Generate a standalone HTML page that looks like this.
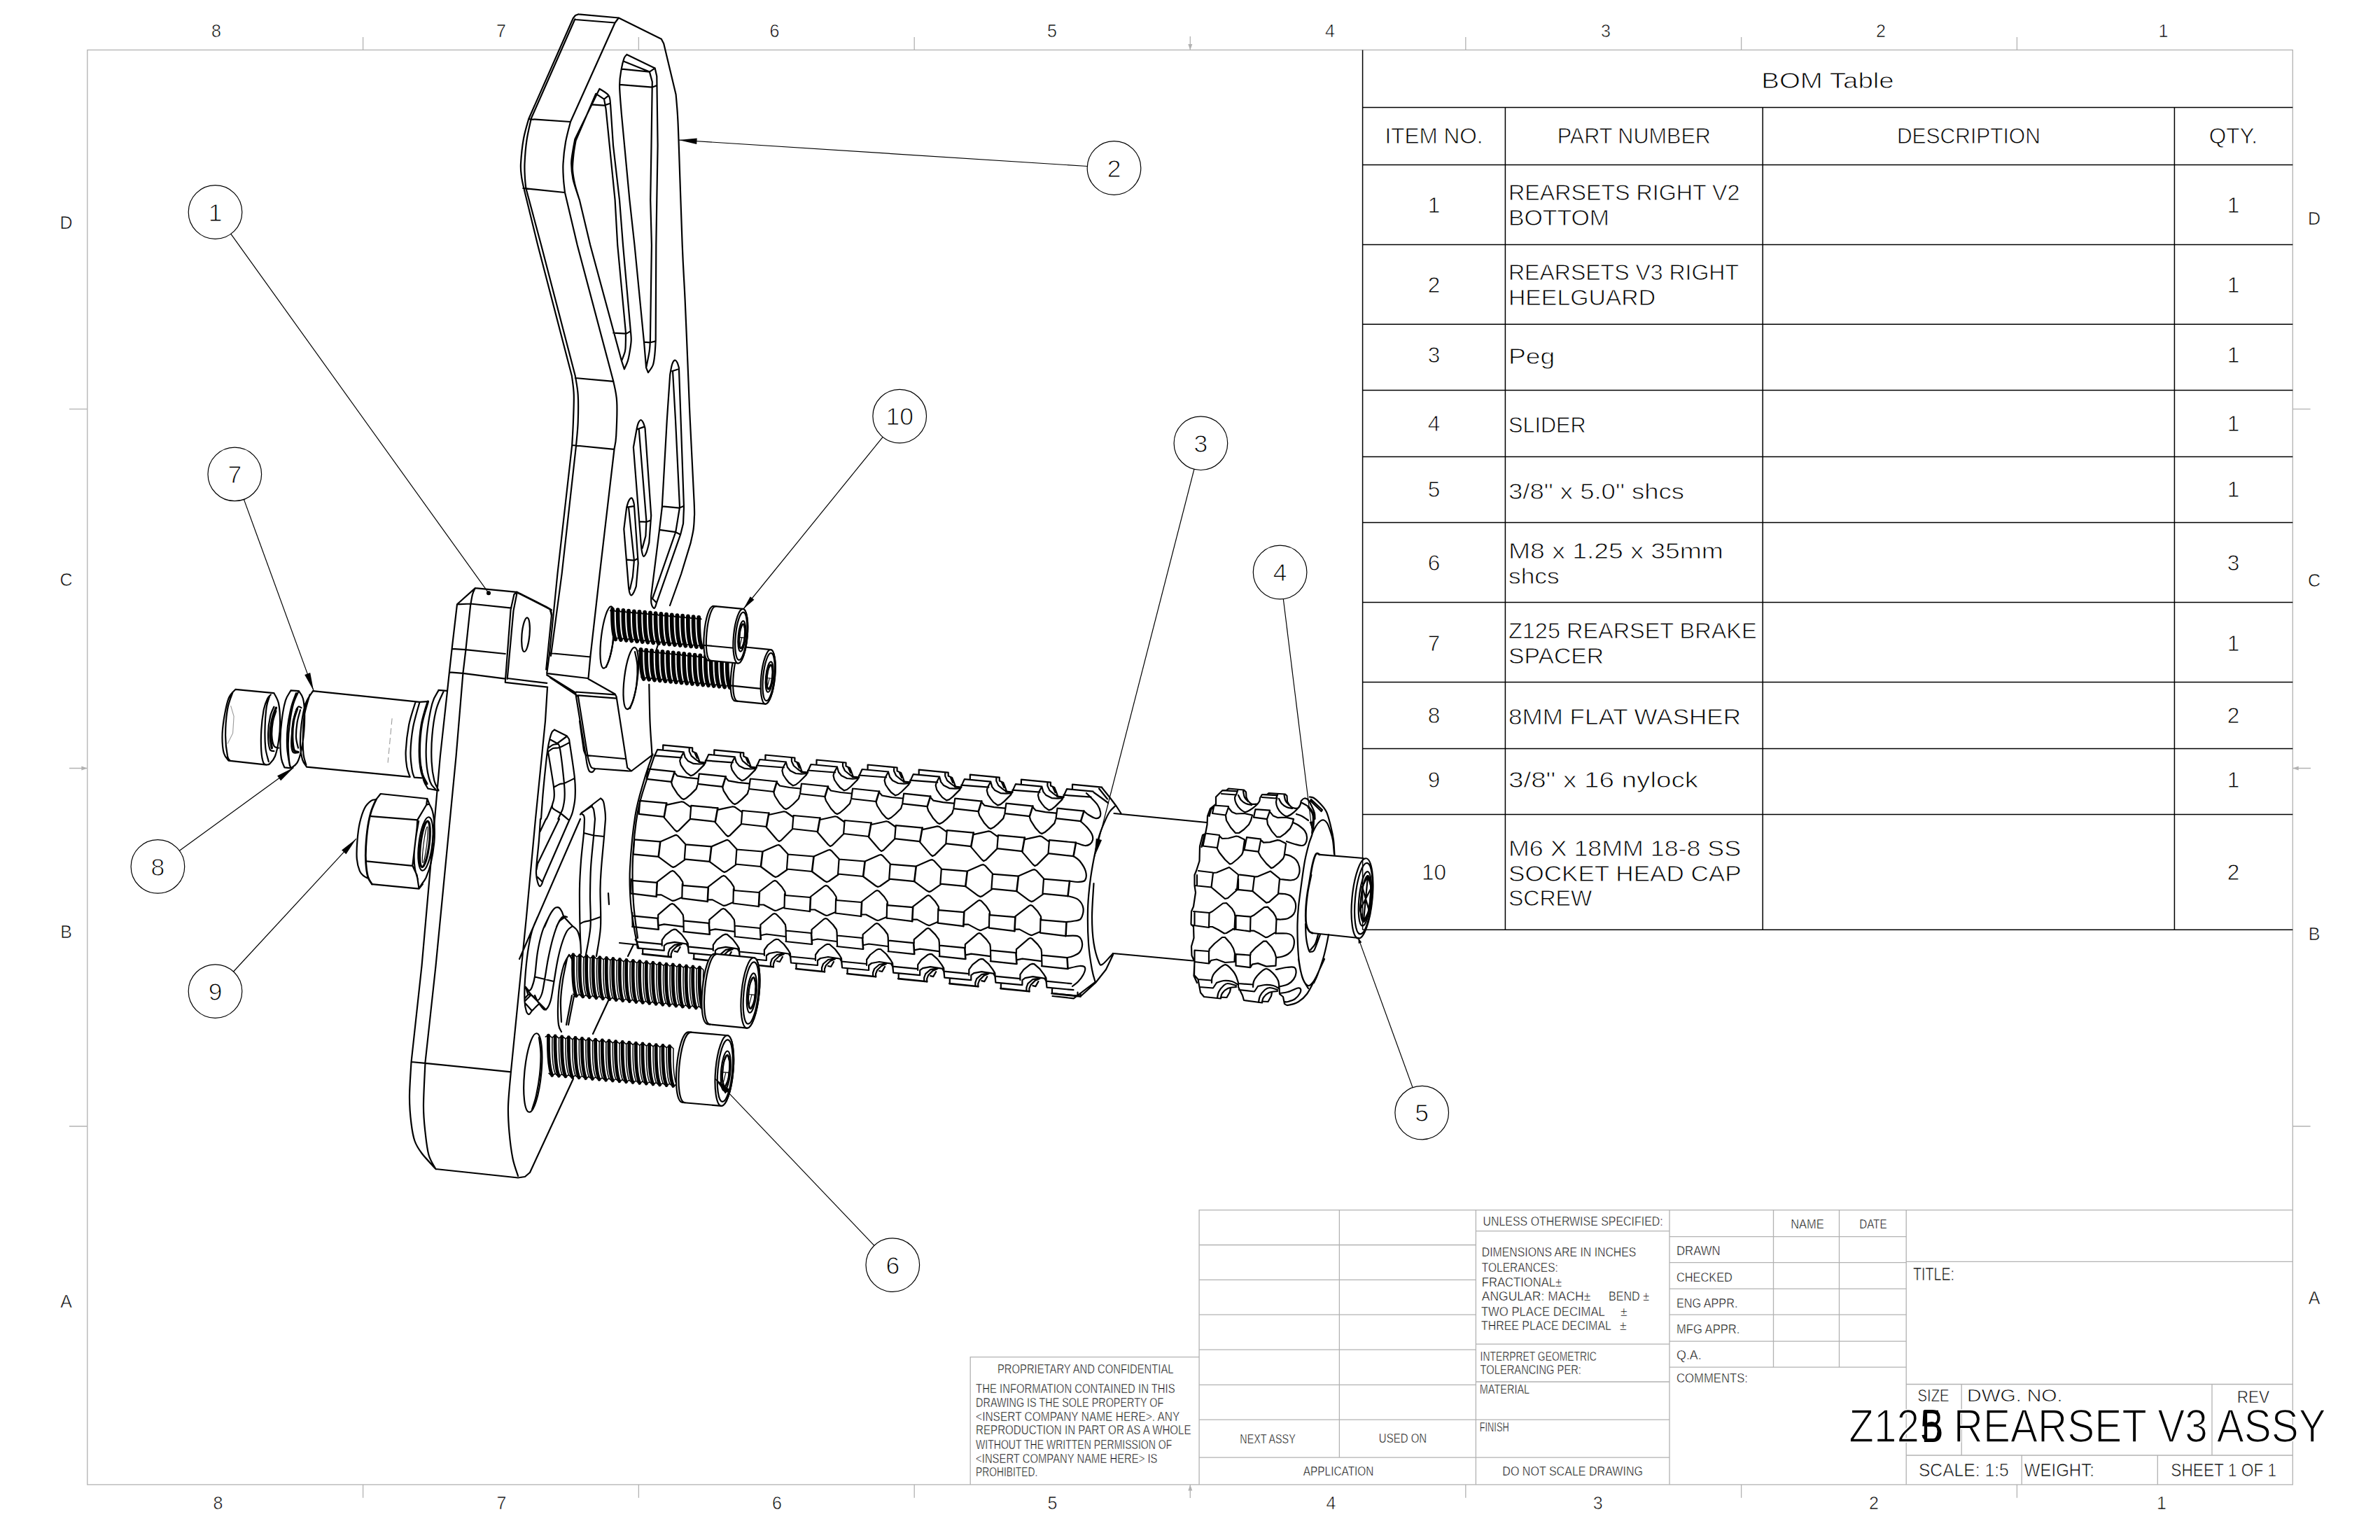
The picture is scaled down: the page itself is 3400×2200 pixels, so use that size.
<!DOCTYPE html>
<html><head><meta charset="utf-8"><title>Z125 REARSET V3 ASSY</title>
<style>
html,body{margin:0;padding:0;background:#fff;}
body{width:3400px;height:2200px;overflow:hidden;}
svg{display:block;font-family:"Liberation Sans",sans-serif;}
.k{stroke:#000;fill:none;stroke-width:2.2;stroke-linecap:round;stroke-linejoin:round;}
.w{stroke:#000;fill:#fff;stroke-width:2.2;stroke-linecap:round;stroke-linejoin:round;}
.t{stroke:#000;fill:none;stroke-width:1.1;stroke-linecap:round;stroke-linejoin:round;}
.g{stroke:#9a9a9a;fill:none;stroke-width:1.1;}
</style></head><body>
<svg width="3400" height="2200" viewBox="0 0 3400 2200">
<rect width="3400" height="2200" fill="#fff"/>
<g stroke="#b2b2b2" stroke-width="1.3" fill="none">
<rect x="124.8" y="71.4" width="3150.5" height="2049.5"/>
<path d="M518.6 53V71.4M518.6 2120.9V2139.8"/>
<path d="M912.4 53V71.4M912.4 2120.9V2139.8"/>
<path d="M1306.2 53V71.4M1306.2 2120.9V2139.8"/>
<path d="M2093.8 53V71.4M2093.8 2120.9V2139.8"/>
<path d="M2487.6 53V71.4M2487.6 2120.9V2139.8"/>
<path d="M2881.4 53V71.4M2881.4 2120.9V2139.8"/>
<path d="M99 584.3H124.8M3275.3 584.3H3300.6"/>
<path d="M99 1609H124.8M3275.3 1609H3300.6"/>
<path d="M1700.3 52V71.4M1700.3 2120.9V2140M99 1097.5H124.8M3275.3 1097.5H3301"/>
</g>
<g fill="#b2b2b2" stroke="none">
<path d="M1697.3 63h6l-3 8.4z"/>
<path d="M1697.3 2129.5h6l-3 -8.4z"/>
<path d="M116.4 1094.5v6l8.4 -3z"/>
<path d="M3283.7 1094.5v6l-8.4 -3z"/>
</g>
<g font-size="25" text-anchor="middle" fill="#000" stroke="#fff" stroke-width="0.6">
<text x="309" y="52.5">8</text>
<text x="716" y="52.5">7</text>
<text x="1106.5" y="52.5">6</text>
<text x="1503" y="52.5">5</text>
<text x="1900" y="52.5">4</text>
<text x="2294" y="52.5">3</text>
<text x="2687" y="52.5">2</text>
<text x="3090.5" y="52.5">1</text>
<text x="311.4" y="2156">8</text>
<text x="716.4" y="2156">7</text>
<text x="1110" y="2156">6</text>
<text x="1503.5" y="2156">5</text>
<text x="1901.5" y="2156">4</text>
<text x="2282.6" y="2156">3</text>
<text x="2677" y="2156">2</text>
<text x="3088" y="2156">1</text>
<text x="94.5" y="327">D</text>
<text x="94.5" y="837">C</text>
<text x="94.5" y="1340">B</text>
<text x="94.5" y="1868.4">A</text>
<text x="3306" y="320.7">D</text>
<text x="3306" y="838">C</text>
<text x="3306" y="1343">B</text>
<text x="3306" y="1863.4">A</text>
</g>
<g stroke="#b2b2b2" stroke-width="1.3" fill="none">
<path d="M1386.2 2120.9V1938.7H1713.1M1713.1 2120.9V1728.7H3275.3M1713.1 1778.5H2108.4M1713.1 1828.4H2108.4M1713.1 1878.2H2108.4M1713.1 1928.1H2108.4M1713.1 1978.4H2108.4M1713.1 2028.2H2108.4M1713.1 2082.1H2385M1913.4 1728.7V2082.1M2108.4 1728.7V2120.9M2108.4 1758.7H2385M2108.4 1920.1H2385M2108.4 1974H2385M2108.4 2028.2H2385M2385 1728.7V2120.9M2385 1766.6H2723.2M2385 1803.7H2723.2M2385 1841.2H2723.2M2385 1878.2H2723.2M2385 1916.2H2723.2M2385 1953.2H2723.2M2533.5 1728.7V1953.2M2627.5 1728.7V1953.2M2723.2 1728.7V2120.9M2723.2 1802.4H3275.3M2723.2 1977.5H3275.3M2723.2 2079H3275.3M2802.2 1977.5V2079M3160 1977.5V2079M2888.2 2079V2120.9M3082.3 2079V2120.9"/>
</g>
<g fill="#000">
<text x="2118.5" y="1750.7" font-size="18" text-anchor="start" textLength="257.2" lengthAdjust="spacingAndGlyphs" stroke="#fff" stroke-width="0.47">UNLESS OTHERWISE SPECIFIED:</text>
<text x="2116.8" y="1795.3" font-size="17.5" text-anchor="start" textLength="220.6" lengthAdjust="spacingAndGlyphs" stroke="#fff" stroke-width="0.45">DIMENSIONS ARE IN INCHES</text>
<text x="2116.8" y="1816.5" font-size="17.5" text-anchor="start" textLength="109.0" lengthAdjust="spacingAndGlyphs" stroke="#fff" stroke-width="0.45">TOLERANCES:</text>
<text x="2116.8" y="1837.6" font-size="17.5" text-anchor="start" textLength="114.3" lengthAdjust="spacingAndGlyphs" stroke="#fff" stroke-width="0.45">FRACTIONAL±</text>
<text x="2116.8" y="1858.4" font-size="17.5" text-anchor="start" textLength="155.5" lengthAdjust="spacingAndGlyphs" stroke="#fff" stroke-width="0.45">ANGULAR: MACH±</text>
<text x="2298.0" y="1858.4" font-size="17.5" text-anchor="start" textLength="58.0" lengthAdjust="spacingAndGlyphs" stroke="#fff" stroke-width="0.45">BEND ±</text>
<text x="2115.9" y="1879.6" font-size="17.5" text-anchor="start" textLength="177.0" lengthAdjust="spacingAndGlyphs" stroke="#fff" stroke-width="0.45">TWO PLACE DECIMAL</text>
<text x="2315.0" y="1879.6" font-size="17.5" text-anchor="start" stroke="#fff" stroke-width="0.45">±</text>
<text x="2115.9" y="1900.3" font-size="17.5" text-anchor="start" textLength="186.0" lengthAdjust="spacingAndGlyphs" stroke="#fff" stroke-width="0.45">THREE PLACE DECIMAL</text>
<text x="2314.0" y="1900.3" font-size="17.5" text-anchor="start" stroke="#fff" stroke-width="0.45">±</text>
<text x="2114.6" y="1944.0" font-size="17.5" text-anchor="start" textLength="166.3" lengthAdjust="spacingAndGlyphs" stroke="#fff" stroke-width="0.45">INTERPRET GEOMETRIC</text>
<text x="2114.6" y="1963.0" font-size="17.5" text-anchor="start" textLength="144.3" lengthAdjust="spacingAndGlyphs" stroke="#fff" stroke-width="0.45">TOLERANCING PER:</text>
<text x="2113.7" y="1991.2" font-size="17.5" text-anchor="start" textLength="71.5" lengthAdjust="spacingAndGlyphs" stroke="#fff" stroke-width="0.45">MATERIAL</text>
<text x="2113.7" y="2044.6" font-size="17.5" text-anchor="start" textLength="42.0" lengthAdjust="spacingAndGlyphs" stroke="#fff" stroke-width="0.45">FINISH</text>
<text x="2146.3" y="2108.1" font-size="17.5" text-anchor="start" textLength="200.7" lengthAdjust="spacingAndGlyphs" stroke="#fff" stroke-width="0.45">DO NOT SCALE DRAWING</text>
<text x="1771.3" y="2062.2" font-size="17.5" text-anchor="start" textLength="79.4" lengthAdjust="spacingAndGlyphs" stroke="#fff" stroke-width="0.45">NEXT ASSY</text>
<text x="1969.8" y="2061.3" font-size="17.5" text-anchor="start" textLength="68.4" lengthAdjust="spacingAndGlyphs" stroke="#fff" stroke-width="0.45">USED ON</text>
<text x="1861.8" y="2108.1" font-size="17.5" text-anchor="start" textLength="100.6" lengthAdjust="spacingAndGlyphs" stroke="#fff" stroke-width="0.45">APPLICATION</text>
<text x="1425.0" y="1961.6" font-size="17.5" text-anchor="start" textLength="251.5" lengthAdjust="spacingAndGlyphs" stroke="#fff" stroke-width="0.45">PROPRIETARY AND CONFIDENTIAL</text>
<text x="1394.1" y="1989.9" font-size="17.5" text-anchor="start" textLength="284.6" lengthAdjust="spacingAndGlyphs" stroke="#fff" stroke-width="0.45">THE INFORMATION CONTAINED IN THIS</text>
<text x="1394.1" y="2009.7" font-size="17.5" text-anchor="start" textLength="268.2" lengthAdjust="spacingAndGlyphs" stroke="#fff" stroke-width="0.45">DRAWING IS THE SOLE PROPERTY OF</text>
<text x="1394.1" y="2029.6" font-size="17.5" text-anchor="start" textLength="291.2" lengthAdjust="spacingAndGlyphs" stroke="#fff" stroke-width="0.45">&lt;INSERT COMPANY NAME HERE&gt;.  ANY</text>
<text x="1394.1" y="2049.4" font-size="17.5" text-anchor="start" textLength="307.5" lengthAdjust="spacingAndGlyphs" stroke="#fff" stroke-width="0.45">REPRODUCTION IN PART OR AS A WHOLE</text>
<text x="1394.1" y="2069.7" font-size="17.5" text-anchor="start" textLength="280.2" lengthAdjust="spacingAndGlyphs" stroke="#fff" stroke-width="0.45">WITHOUT THE WRITTEN PERMISSION OF</text>
<text x="1394.1" y="2089.6" font-size="17.5" text-anchor="start" textLength="259.4" lengthAdjust="spacingAndGlyphs" stroke="#fff" stroke-width="0.45">&lt;INSERT COMPANY NAME HERE&gt; IS</text>
<text x="1394.1" y="2108.5" font-size="17.5" text-anchor="start" textLength="88.2" lengthAdjust="spacingAndGlyphs" stroke="#fff" stroke-width="0.45">PROHIBITED.</text>
<text x="2558.2" y="1754.7" font-size="17.5" text-anchor="start" textLength="47.6" lengthAdjust="spacingAndGlyphs" stroke="#fff" stroke-width="0.45">NAME</text>
<text x="2656.2" y="1754.7" font-size="17.5" text-anchor="start" textLength="39.3" lengthAdjust="spacingAndGlyphs" stroke="#fff" stroke-width="0.45">DATE</text>
<text x="2395.0" y="1792.6" font-size="17.5" text-anchor="start" textLength="62.6" lengthAdjust="spacingAndGlyphs" stroke="#fff" stroke-width="0.45">DRAWN</text>
<text x="2395.0" y="1830.6" font-size="17.5" text-anchor="start" textLength="79.9" lengthAdjust="spacingAndGlyphs" stroke="#fff" stroke-width="0.45">CHECKED</text>
<text x="2395.0" y="1867.6" font-size="17.5" text-anchor="start" textLength="87.4" lengthAdjust="spacingAndGlyphs" stroke="#fff" stroke-width="0.45">ENG APPR.</text>
<text x="2395.0" y="1904.7" font-size="17.5" text-anchor="start" textLength="90.4" lengthAdjust="spacingAndGlyphs" stroke="#fff" stroke-width="0.45">MFG APPR.</text>
<text x="2395.0" y="1942.2" font-size="17.5" text-anchor="start" textLength="35.7" lengthAdjust="spacingAndGlyphs" stroke="#fff" stroke-width="0.45">Q.A.</text>
<text x="2395.0" y="1974.9" font-size="17.5" text-anchor="start" textLength="101.9" lengthAdjust="spacingAndGlyphs" stroke="#fff" stroke-width="0.45">COMMENTS:</text>
<text x="2732.9" y="1828.8" font-size="26.5" text-anchor="start" textLength="59.1" lengthAdjust="spacingAndGlyphs" stroke="#fff" stroke-width="0.69">TITLE:</text>
<text x="2739.6" y="2002.2" font-size="24" text-anchor="start" textLength="45.0" lengthAdjust="spacingAndGlyphs" stroke="#fff" stroke-width="0.62">SIZE</text>
<text x="2810.1" y="2002.2" font-size="24" text-anchor="start" textLength="136.3" lengthAdjust="spacingAndGlyphs" stroke="#fff" stroke-width="0.62">DWG.  NO.</text>
<text x="3195.7" y="2003.5" font-size="24" text-anchor="start" textLength="46.3" lengthAdjust="spacingAndGlyphs" stroke="#fff" stroke-width="0.62">REV</text>
<text x="2641.2" y="2059.6" font-size="66.5" text-anchor="start" textLength="681.6" lengthAdjust="spacingAndGlyphs" stroke="#fff" stroke-width="1.73">Z125 REARSET V3 ASSY</text>
<text x="2744.9" y="2059.6" font-size="66.5" text-anchor="start" textLength="31.0" lengthAdjust="spacingAndGlyphs" >B</text>
<text x="2740.9" y="2109.4" font-size="26" text-anchor="start" textLength="128.8" lengthAdjust="spacingAndGlyphs" stroke="#fff" stroke-width="0.68">SCALE: 1:5</text>
<text x="2891.8" y="2109.4" font-size="26" text-anchor="start" textLength="100.1" lengthAdjust="spacingAndGlyphs" stroke="#fff" stroke-width="0.68">WEIGHT:</text>
<text x="3101.3" y="2109.4" font-size="26" text-anchor="start" textLength="150.9" lengthAdjust="spacingAndGlyphs" stroke="#fff" stroke-width="0.68">SHEET 1 OF 1</text>
</g>
<g id="drawing">
<path class="k" d="M826.6 20.3L822.0 22.0L818.8 26.0L755.2 170.0M755.2 170.0C754.0 174.7 749.9 187.4 748.0 198.0C746.1 208.6 744.5 224.8 744.0 233.8C743.5 242.8 744.4 246.8 745.0 252.0C745.6 257.2 747.0 262.8 747.4 265.0M747.4 265.0L768.2 350.0L816.9 537.0M816.9 537.0C817.4 541.5 819.5 553.2 819.8 564.3C820.1 575.3 819.3 591.3 818.9 603.3C818.5 615.2 817.5 630.5 817.2 636.0M817.2 636.0L796.4 820.0L785.1 933.0L781.2 962.0M821.4 27.3L759.0 168.8M759.0 168.8C757.9 174.0 754.1 189.2 752.5 200.0C750.9 210.8 749.9 224.6 749.5 233.8C749.1 243.0 749.7 249.2 750.0 255.0C750.3 260.8 751.1 266.5 751.3 268.8M751.3 268.8L773.1 350.0L821.8 537.0M821.8 537.0C822.4 541.5 825.1 553.2 825.7 564.3C826.4 575.3 826.1 591.3 825.7 603.3C825.3 615.2 823.5 630.5 823.1 636.0M823.1 636.0L802.6 820.0L787.0 936.9M878.6 32.5L815.0 174.0M815.0 174.0C813.8 178.8 809.8 193.0 808.0 203.0C806.2 213.0 805.0 225.0 804.5 233.8C804.0 242.6 804.6 249.1 805.0 256.0C805.4 262.9 806.7 271.8 807.0 275.0M807.0 275.0L824.7 350.0L876.3 544.8M876.3 544.8C877.1 549.7 880.6 561.0 881.2 574.0C881.9 587.0 880.8 611.6 880.2 622.8C879.6 634.0 878.0 638.0 877.6 641.0M877.6 641.0L856.7 820.0L843.5 936.9L840.6 968.1M822.0 28.0L878.6 32.5M755.2 170.0L815.0 174.0M747.4 268.8L806.5 275.0M821.8 540.0L876.3 544.8M817.9 636.0L877.3 641.9M785.1 933.0L843.5 938.5M782.2 962.2L839.7 969.0M826.6 20.3L883.8 25.5L944.8 55.8L948.2 62.3L965.6 135.0M965.6 135.0C966.0 140.0 967.4 154.2 968.0 165.0C968.6 175.8 968.4 169.2 969.5 200.0C970.6 230.8 973.2 312.0 974.7 350.0C976.2 388.0 977.1 395.4 978.6 427.9C980.1 460.4 982.3 516.1 983.5 544.8C984.7 573.5 984.4 571.3 985.8 600.0C987.1 628.7 990.6 693.6 991.6 716.9C992.6 740.2 992.0 733.3 991.8 740.0C991.6 746.7 991.4 751.1 990.5 757.0C989.6 762.9 987.3 772.3 986.7 775.4M986.7 775.4L973.1 820.0L957.0 865.0M941.0 918.0L938.0 927.0M927.3 977.8C927.5 986.5 927.9 1014.1 928.5 1030.0C929.1 1045.9 930.8 1065.1 931.2 1073.3C931.7 1081.5 931.2 1078.2 931.2 1079.2M878.6 32.5L883.8 25.5M781.2 964.2L822.1 989.5L836.7 1079.0M786.1 968.1L824.1 993.4L826.0 995.3L839.7 1081.1M840.6 970.0L878.6 991.5L880.6 995.3L896.2 1096.7L902.0 1101.5L931.2 1079.2M823.1 988.5L878.6 992.4M826.0 993.4L880.6 997.7M836.7 1079.0C837.0 1081.0 837.8 1087.5 838.5 1091.0C839.2 1094.5 840.2 1098.0 841.0 1100.0C841.8 1102.0 842.5 1102.4 843.5 1102.8C844.5 1103.2 845.9 1103.2 847.0 1102.5C848.1 1101.8 849.5 1099.2 850.0 1098.5M839.7 1081.0C840.1 1082.5 841.1 1087.4 842.0 1090.0C842.9 1092.6 843.7 1095.2 845.0 1096.5C846.3 1097.8 849.2 1097.8 850.0 1098.0M837.7 1079.0L892.3 1084.0M850.0 1098.0L897.0 1101.3L902.0 1101.5M828.0 1030.0L834.0 1072.0L836.7 1079.0M856.5 126.8L821.4 198.7M821.4 198.7C820.9 201.5 819.2 209.8 818.3 215.6C817.4 221.4 816.1 226.9 816.2 233.8C816.3 240.7 816.8 248.5 818.8 257.1C820.8 265.8 826.4 280.9 827.9 285.7M827.9 285.7L843.2 350.0L888.0 515.6L891.9 527.3M851.3 133.8L822.5 201.0M822.5 201.0C822.0 204.2 820.2 213.2 819.5 220.0C818.8 226.8 817.8 234.6 818.0 241.6C818.2 248.6 819.6 255.3 821.0 262.0C822.4 268.7 825.7 278.5 826.6 281.8M856.5 126.8C858.7 128.4 866.9 132.6 869.5 136.4C872.1 140.2 871.7 147.2 872.1 149.4M872.1 149.4L876.0 207.8L885.0 285.7L890.0 350.0L900.7 470.8M900.7 470.8C900.9 473.4 901.9 481.0 901.7 486.4C901.5 491.8 900.3 498.1 899.5 503.0C898.7 507.9 898.1 511.6 896.8 515.6C895.5 519.6 892.7 525.3 891.9 527.3M863.0 141.6L865.6 155.8L870.8 207.8L878.6 285.7L882.2 350.0L893.9 474.7M893.9 474.7C893.9 477.2 894.0 485.4 893.8 490.0C893.6 494.6 893.9 497.7 892.9 502.0C891.9 506.3 888.8 513.3 888.0 515.6M851.3 133.8L863.0 141.6L869.5 136.4M844.8 149.4L863.0 150.6L870.8 148.0M876.3 475.7L894.8 476.6L900.7 473.1M895.5 77.9C894.9 78.8 892.9 79.6 891.6 83.1C890.3 86.6 888.8 92.2 887.7 98.7C886.6 105.2 885.1 111.6 885.1 122.0C885.1 132.4 887.3 154.5 887.7 161.0M887.7 161.0L899.4 285.7L906.5 350.0L920.2 490.3L923.1 525.4L926.0 532.2M895.5 77.9L935.7 97.4L938.3 109.0L939.6 207.8L938.3 285.7L937.3 350.0L936.7 486.4M936.7 486.4C936.5 489.5 936.1 499.1 935.5 505.0C934.9 510.9 934.4 517.0 932.8 521.5C931.2 526.0 927.1 530.4 926.0 532.2M892.0 88.0L927.9 102.6L931.8 116.9L930.5 207.8L929.2 285.7L930.9 350.0L928.9 486.4M928.9 486.4C928.8 488.2 928.5 493.8 928.2 497.0C927.9 500.2 927.9 501.2 927.0 505.9C926.1 510.6 923.8 522.1 923.1 525.4M888.5 98.7L927.9 102.6L935.7 97.4M885.1 120.8L931.8 124.7L938.3 122.0M920.2 488.7L928.9 489.3L936.7 487.4M957.2 535.1C957.7 532.8 958.9 524.4 960.0 521.0C961.1 517.6 962.8 515.1 964.0 514.6C965.2 514.1 966.5 516.2 967.5 518.0C968.5 519.8 969.5 524.2 969.9 525.4M957.2 535.1L952.8 600.0L945.8 724.7L941.9 757.8L930.2 851.3M930.2 851.3C930.2 853.1 929.9 859.1 930.5 862.0C931.1 864.9 933.1 868.2 934.1 868.9C935.1 869.6 935.9 867.3 936.5 866.0C937.1 864.7 937.8 861.9 938.0 861.1M969.9 525.4L972.6 600.0L977.0 724.7L976.0 748.1L972.1 763.7L938.0 861.1M961.1 531.2L965.0 600.0L971.0 724.7L965.3 759.8L932.1 855.2L938.0 861.1M960.1 530.2L967.9 527.7M946.4 723.3L970.2 725.7L976.6 723.1M941.9 756.8L965.3 760.2L972.1 763.7M909.8 611.7C910.2 610.4 911.0 606.0 912.0 604.0C913.0 602.0 914.3 600.0 915.5 600.0C916.7 600.0 918.0 602.0 919.0 604.0C920.0 606.0 921.1 610.4 921.5 611.7M909.8 611.7L904.9 639.0L915.6 775.4M915.6 775.4C915.8 777.5 916.4 784.8 917.0 788.0C917.6 791.2 918.4 794.6 919.5 794.8C920.6 795.0 922.2 792.2 923.5 789.0C924.8 785.8 926.7 777.7 927.3 775.4M921.5 611.7L930.2 736.4L927.3 775.4M912.7 612.7L923.4 744.2L922.4 765.6L917.6 783.1M913.3 745.2L923.4 745.7L929.6 743.2M910.2 613.2L919.1 610.1M895.2 724.7C895.7 723.2 896.9 718.2 898.0 716.0C899.1 713.8 900.9 711.6 902.0 711.4C903.1 711.2 903.9 713.4 904.5 715.0C905.1 716.6 905.7 719.8 905.9 720.8M895.2 724.7L891.3 755.9L898.1 839.6M898.1 839.6C898.3 840.8 898.9 845.2 899.5 847.0C900.1 848.8 901.0 850.6 902.0 850.4C903.0 850.2 904.4 848.1 905.5 846.0C906.6 843.9 908.2 839.1 908.8 837.7M905.9 720.8L911.7 804.6L908.8 837.7M898.1 725.7L905.9 800.7L903.9 824.0L900.0 841.6M896.1 799.7L905.9 800.7L911.3 797.8M895.7 724.7L905.5 723.1"/>
<ellipse class="k" cx="867.7" cy="910.5" rx="8.8" ry="44.5" transform="rotate(7 867.7 910.5)"/>
<path class="k" d="M873.0 872.0C873.6 875.3 876.1 884.3 876.5 892.0C876.9 899.7 876.4 910.0 875.5 918.0C874.6 926.0 872.6 934.2 871.0 940.0C869.4 945.8 866.8 950.8 866.0 953.0"/>
<ellipse class="k" cx="901.3" cy="969" rx="9.4" ry="44.5" transform="rotate(7 901.3 969)"/>
<path class="k" d="M907.0 931.0C907.6 934.3 910.1 943.3 910.5 951.0C910.9 958.7 910.4 969.0 909.5 977.0C908.6 985.0 906.6 993.2 905.0 999.0C903.4 1004.8 900.8 1009.8 900.0 1012.0"/>
<path class="k" d="M653.0 863.3L678.9 840.1L738.3 845.9M788.0 878.5L780.2 956.4M653.0 863.3L645.8 925.2L641.9 960.3L639.0 987.6L628.9 1080.0L602.5 1380.0L587.5 1517.5M587.5 1517.5C587.1 1525.8 585.0 1552.9 585.0 1567.5C585.0 1582.1 586.2 1594.6 587.5 1605.0C588.8 1615.4 590.0 1622.9 592.5 1630.0C595.0 1637.1 597.5 1640.8 602.5 1647.5C607.5 1654.2 619.2 1666.2 622.5 1670.0M678.9 840.1C678.2 841.6 676.1 845.1 675.0 849.2C673.9 853.3 672.6 862.2 672.1 864.8M672.1 864.8L665.3 929.1L661.4 962.2L651.6 1080.0L622.5 1380.0L607.5 1517.5M607.5 1517.5C607.1 1527.9 605.0 1563.3 605.0 1580.0C605.0 1596.7 606.2 1605.8 607.5 1617.5C608.8 1629.2 610.0 1641.2 612.5 1650.0C615.0 1658.8 620.8 1666.7 622.5 1670.0M653.0 863.3L672.1 862.5L730.5 868.7M646.4 926.8L665.3 928.1L721.8 934.0M642.5 960.3L661.4 961.8L721.8 969.6M587.5 1517.0L607.5 1518.8L730.0 1531.3M738.3 845.9L734.4 849.2L729.6 870.7L721.8 973.9M738.3 848.3L733.5 872.6L724.7 970.0M721.8 974.9L782.2 981.7M724.7 969.0L781.2 975.9M782.0 982.0L779.0 1030.0L765.0 1170.0L752.0 1310.0L745.0 1380.0L735.0 1480.0L730.0 1530.0M730.0 1530.0C729.3 1538.3 726.4 1565.4 726.0 1580.0C725.6 1594.6 726.4 1605.0 727.5 1617.5C728.6 1630.0 730.4 1644.6 732.5 1655.0C734.6 1665.4 738.8 1675.8 740.0 1680.0M622.5 1670.0L740.0 1682.5L750.0 1681.0L757.0 1675.0M885.0 1347.0L909.0 1349.5M905.0 1349.5L897.0 1366.0M870.0 1427.5L847.0 1477.0M819.0 1541.0L757.0 1675.0M792.0 1042.5C791.4 1043.1 789.6 1043.9 788.5 1046.0C787.4 1048.1 786.5 1051.0 785.5 1055.0C784.5 1059.0 783.4 1064.2 782.5 1070.0C781.6 1075.8 781.1 1080.0 780.0 1090.0C778.9 1100.0 777.2 1116.7 776.0 1130.0C774.8 1143.3 773.5 1163.3 773.0 1170.0M792.0 1042.5L810.0 1051.5L813.0 1056.0M813.0 1056.0C814.3 1065.3 819.6 1098.0 821.0 1112.0C822.4 1126.0 822.0 1132.0 821.5 1140.0C821.0 1148.0 819.2 1155.0 818.0 1160.0C816.8 1165.0 814.8 1168.3 814.2 1170.0M787.0 1057.0L796.0 1062.0L809.0 1052.5M796.0 1062.0C796.7 1063.3 798.3 1060.3 800.0 1070.0C801.7 1079.7 804.9 1108.3 806.0 1120.0C807.1 1131.7 806.8 1134.2 806.5 1140.0C806.2 1145.8 804.9 1151.3 804.0 1155.0C803.1 1158.7 801.5 1160.8 801.0 1162.0M784.0 1068.0C785.0 1067.3 788.0 1064.8 790.0 1064.0C792.0 1063.2 795.0 1063.2 796.0 1063.0M783.0 1074.0C784.2 1073.2 787.3 1070.0 790.0 1069.0C792.7 1068.0 795.2 1069.3 799.0 1068.0C802.8 1066.7 810.7 1062.2 813.0 1061.0M783.0 1074.0C784.3 1082.3 789.6 1113.0 791.0 1124.0C792.4 1135.0 791.8 1135.7 791.5 1140.0C791.2 1144.3 789.2 1147.5 789.0 1150.0C788.8 1152.5 788.0 1153.0 790.0 1155.0C792.0 1157.0 797.2 1159.2 801.0 1162.0C804.8 1164.8 811.0 1170.3 813.0 1172.0M791.5 1124.5C792.9 1123.8 797.6 1120.9 800.0 1120.0C802.4 1119.1 802.6 1120.3 806.0 1119.0C809.4 1117.7 818.1 1113.2 820.5 1112.0M789.0 1150.0L783.0 1165.0L780.6 1170.0M801.0 1162.0L797.4 1170.0M772.0 1170.0C771.7 1175.0 770.8 1190.0 770.0 1200.0C769.2 1210.0 767.7 1222.0 767.0 1230.0C766.3 1238.0 765.8 1243.0 766.0 1248.0C766.2 1253.0 767.2 1257.0 768.0 1260.0C768.8 1263.0 770.0 1265.5 771.0 1266.0C772.0 1266.5 773.2 1264.5 774.0 1263.0C774.8 1261.5 775.7 1258.0 776.0 1257.0M780.0 1170.0L771.5 1188.0M799.0 1170.0L768.0 1234.0L766.5 1242.0M814.0 1170.0L776.0 1257.0M768.0 1253.0L775.0 1260.0M829.0 1170.0L762.0 1324.0L742.0 1370.0M858.0 1140.5L830.0 1162.0L829.0 1163.5M858.0 1140.5C858.7 1141.2 860.9 1141.8 862.0 1145.0C863.1 1148.2 864.0 1155.8 864.5 1160.0C865.0 1164.2 864.9 1168.3 865.0 1170.0M845.0 1152.0C845.5 1152.7 847.2 1153.0 848.0 1156.0C848.8 1159.0 849.7 1167.7 850.0 1170.0M830.0 1162.0C830.7 1162.5 833.2 1163.7 834.0 1165.0C834.8 1166.3 834.8 1169.2 835.0 1170.0M831.0 1161.0L846.0 1151.0M835.0 1170.0C834.8 1173.3 834.8 1180.0 834.0 1190.0C833.2 1200.0 831.0 1216.7 830.0 1230.0C829.0 1243.3 828.2 1254.3 828.0 1270.0C827.8 1285.7 828.2 1308.7 828.5 1324.0C828.8 1339.3 829.8 1355.7 830.0 1362.0M850.0 1170.0C849.7 1174.2 849.0 1183.3 848.0 1195.0C847.0 1206.7 844.8 1225.8 844.0 1240.0C843.2 1254.2 843.1 1266.0 843.0 1280.0C842.9 1294.0 844.5 1310.0 843.5 1324.0C842.5 1338.0 838.1 1357.3 837.0 1364.0M865.0 1170.0C864.7 1174.2 864.0 1183.3 863.0 1195.0C862.0 1206.7 859.9 1227.5 859.0 1240.0C858.1 1252.5 857.7 1256.0 857.5 1270.0C857.3 1284.0 858.9 1308.0 858.0 1324.0C857.1 1340.0 853.0 1359.0 852.0 1366.0M834.0 1190.0L848.0 1193.5L863.0 1195.0M828.5 1320.0C829.4 1319.5 831.6 1317.8 834.0 1317.0C836.4 1316.2 839.1 1316.2 843.0 1315.0C846.9 1313.8 855.1 1310.8 857.5 1310.0M869.0 1276.0L870.0 1292.0M778.0 1324.0C779.2 1321.3 783.0 1312.0 785.0 1308.0C787.0 1304.0 788.5 1301.9 790.0 1300.0C791.5 1298.1 792.5 1297.0 794.0 1296.5C795.5 1296.0 797.5 1295.9 799.0 1297.0C800.5 1298.1 801.8 1300.8 803.0 1303.0C804.2 1305.2 803.5 1306.7 806.0 1310.0C808.5 1313.3 816.0 1320.8 818.0 1323.0M795.0 1324.0C795.8 1322.3 798.3 1316.5 800.0 1314.0C801.7 1311.5 803.3 1309.7 805.0 1309.0C806.7 1308.3 809.2 1309.8 810.0 1310.0M768.0 1310.0C766.7 1313.3 762.3 1321.7 760.0 1330.0C757.7 1338.3 755.7 1348.3 754.0 1360.0C752.3 1371.7 750.8 1388.3 750.0 1400.0C749.2 1411.7 749.2 1422.5 749.5 1430.0C749.8 1437.5 750.9 1441.8 752.0 1445.0C753.1 1448.2 754.7 1449.2 756.0 1449.0C757.3 1448.8 757.8 1446.3 760.0 1444.0C762.2 1441.7 767.5 1436.5 769.0 1435.0M784.0 1310.0C782.5 1313.3 777.7 1321.7 775.0 1330.0C772.3 1338.3 769.8 1349.2 768.0 1360.0C766.2 1370.8 765.3 1386.7 764.0 1395.0C762.7 1403.3 761.3 1406.7 760.0 1410.0C758.7 1413.3 757.5 1415.0 756.0 1415.0C754.5 1415.0 751.8 1410.8 751.0 1410.0M806.0 1311.0C804.7 1312.2 800.7 1313.2 798.0 1318.0C795.3 1322.8 792.5 1331.3 790.0 1340.0C787.5 1348.7 785.0 1360.0 783.0 1370.0C781.0 1380.0 779.5 1391.7 778.0 1400.0C776.5 1408.3 775.7 1415.2 774.0 1420.0C772.3 1424.8 770.3 1428.7 768.0 1429.0C765.7 1429.3 762.2 1423.3 760.0 1422.0C757.8 1420.7 756.7 1420.3 755.0 1421.0C753.3 1421.7 750.8 1425.2 750.0 1426.0M818.0 1323.0C816.7 1324.2 812.7 1325.5 810.0 1330.0C807.3 1334.5 804.3 1342.5 802.0 1350.0C799.7 1357.5 797.8 1365.8 796.0 1375.0C794.2 1384.2 792.5 1396.2 791.0 1405.0C789.5 1413.8 788.5 1422.2 787.0 1428.0C785.5 1433.8 783.7 1437.7 782.0 1440.0C780.3 1442.3 779.2 1443.3 777.0 1442.0C774.8 1440.7 771.2 1435.3 769.0 1432.0C766.8 1428.7 764.8 1423.7 764.0 1422.0M764.0 1395.5L791.0 1402.0M818.0 1323.0C819.2 1324.2 823.2 1326.3 825.0 1330.0C826.8 1333.7 828.2 1339.7 829.0 1345.0C829.8 1350.3 829.8 1359.2 830.0 1362.0M751.0 1410.0L754.0 1420.0L756.0 1421.0M750.0 1430.0L759.0 1421.0M751.0 1434.0L760.0 1444.0M813.0 1364.0C811.7 1366.7 807.3 1372.3 805.0 1380.0C802.7 1387.7 800.3 1400.0 799.0 1410.0C797.7 1420.0 797.2 1431.0 797.0 1440.0C796.8 1449.0 797.2 1458.3 798.0 1464.0C798.8 1469.7 801.3 1472.3 802.0 1474.0M810.0 1370.0C809.0 1375.0 805.5 1390.0 804.0 1400.0C802.5 1410.0 801.3 1420.0 801.0 1430.0C800.7 1440.0 801.8 1455.0 802.0 1460.0M813.0 1364.0C813.7 1365.0 816.0 1367.3 817.0 1370.0C818.0 1372.7 818.7 1378.3 819.0 1380.0M817.0 1422.0L809.0 1464.0M820.0 1423.0L812.0 1464.0M750.0 1410.0L760.0 1422.5L780.0 1442.5"/>
<path class="k" style="stroke-width:2.8" d="M738.3 845.9C745.8 849.7 775.1 864.3 783.1 868.7C791.1 873.1 785.7 870.9 786.5 872.5C787.3 874.1 787.8 877.5 788.0 878.5"/>
<ellipse class="k" cx="751" cy="906.7" rx="5.5" ry="24.4" transform="rotate(5 751 906.7)"/>
<ellipse class="k" cx="761.3" cy="1532.5" rx="12" ry="56.5" transform="rotate(5.5 761.3 1532.5)"/>
<path class="k" d="M770.0 1482.0C770.4 1485.8 772.3 1496.2 772.5 1505.0C772.7 1513.8 772.1 1525.0 771.0 1535.0C769.9 1545.0 767.8 1556.7 766.0 1565.0C764.2 1573.3 761.0 1581.7 760.0 1585.0"/>
<circle cx="698" cy="847.2" r="2.6" fill="#000"/>
<path class="k" d="M925.7 1098.4L963.7 1102.4M923.7 1112.9L959.2 1116.9M925.7 1098.4L923.7 1112.9M998.8 1105.4L1036.8 1109.4M996.8 1119.9L1032.3 1123.9M998.8 1105.4L996.8 1119.9M1071.9 1112.5L1109.9 1116.5M1069.9 1127.0L1105.4 1131.0M1071.9 1112.5L1069.9 1127.0M1145.0 1119.5L1183.0 1123.5M1143.0 1134.0L1178.5 1138.0M1145.0 1119.5L1143.0 1134.0M1218.1 1126.5L1256.1 1130.5M1216.1 1141.0L1251.6 1145.0M1218.1 1126.5L1216.1 1141.0M1291.2 1133.6L1329.2 1137.6M1289.2 1148.1L1324.7 1152.1M1291.2 1133.6L1289.2 1148.1M1364.3 1140.6L1402.3 1144.6M1362.3 1155.1L1397.8 1159.1M1364.3 1140.6L1362.3 1155.1M1437.4 1147.6L1475.4 1151.6M1435.4 1162.1L1470.9 1166.1M1437.4 1147.6L1435.4 1162.1M1510.5 1154.7L1548.5 1158.7M1508.5 1169.2L1544.0 1173.2M1510.5 1154.7L1508.5 1169.2M963.7 1103.9L967.7 1108.4L981.7 1110.9L996.7 1112.4M959.2 1117.9L960.7 1122.9L967.7 1133.9L973.7 1140.4L976.7 1141.9L980.7 1139.9L986.7 1134.9L994.7 1126.9L996.2 1121.9M1036.8 1110.9L1040.8 1115.4L1054.8 1117.9L1069.8 1119.4M1032.3 1124.9L1033.8 1129.9L1040.8 1140.9L1046.8 1147.4L1049.8 1148.9L1053.8 1146.9L1059.8 1141.9L1067.8 1133.9L1069.3 1128.9M1109.9 1118.0L1113.9 1122.5L1127.9 1125.0L1142.9 1126.5M1105.4 1132.0L1106.9 1137.0L1113.9 1148.0L1119.9 1154.5L1122.9 1156.0L1126.9 1154.0L1132.9 1149.0L1140.9 1141.0L1142.4 1136.0M1183.0 1125.0L1187.0 1129.5L1201.0 1132.0L1216.0 1133.5M1178.5 1139.0L1180.0 1144.0L1187.0 1155.0L1193.0 1161.5L1196.0 1163.0L1200.0 1161.0L1206.0 1156.0L1214.0 1148.0L1215.5 1143.0M1256.1 1132.0L1260.1 1136.5L1274.1 1139.0L1289.1 1140.5M1251.6 1146.0L1253.1 1151.0L1260.1 1162.0L1266.1 1168.5L1269.1 1170.0L1273.1 1168.0L1279.1 1163.0L1287.1 1155.0L1288.6 1150.0M1329.2 1139.1L1333.2 1143.6L1347.2 1146.1L1362.2 1147.6M1324.7 1153.1L1326.2 1158.1L1333.2 1169.1L1339.2 1175.6L1342.2 1177.1L1346.2 1175.1L1352.2 1170.1L1360.2 1162.1L1361.7 1157.1M1402.3 1146.1L1406.3 1150.6L1420.3 1153.1L1435.3 1154.6M1397.8 1160.1L1399.3 1165.1L1406.3 1176.1L1412.3 1182.6L1415.3 1184.1L1419.3 1182.1L1425.3 1177.1L1433.3 1169.1L1434.8 1164.1M1475.4 1153.1L1479.4 1157.6L1493.4 1160.1L1508.4 1161.6M1470.9 1167.1L1472.4 1172.1L1479.4 1183.1L1485.4 1189.6L1488.4 1191.1L1492.4 1189.1L1498.4 1184.1L1506.4 1176.1L1507.9 1171.1M914.2 1143.9L952.2 1147.4M912.7 1162.9L948.7 1166.9M914.2 1143.9L912.7 1162.9M987.3 1150.9L1025.3 1154.4M985.8 1169.9L1021.8 1173.9M987.3 1150.9L985.8 1169.9M1060.4 1158.0L1098.4 1161.5M1058.9 1177.0L1094.9 1181.0M1060.4 1158.0L1058.9 1177.0M1133.5 1165.0L1171.5 1168.5M1132.0 1184.0L1168.0 1188.0M1133.5 1165.0L1132.0 1184.0M1206.6 1172.0L1244.6 1175.5M1205.1 1191.0L1241.1 1195.0M1206.6 1172.0L1205.1 1191.0M1279.7 1179.1L1317.7 1182.6M1278.2 1198.1L1314.2 1202.1M1279.7 1179.1L1278.2 1198.1M1352.8 1186.1L1390.8 1189.6M1351.3 1205.1L1387.3 1209.1M1352.8 1186.1L1351.3 1205.1M1425.9 1193.1L1463.9 1196.6M1424.4 1212.1L1460.4 1216.1M1425.9 1193.1L1424.4 1212.1M1499.0 1200.2L1537.0 1203.7M1497.5 1219.2L1533.5 1223.2M1499.0 1200.2L1497.5 1219.2M952.2 1149.9L963.7 1147.4L973.7 1145.2L976.7 1145.9L987.2 1153.4M948.7 1167.9L963.7 1185.4L966.7 1187.9L969.7 1186.4L985.2 1170.9M1025.3 1156.9L1036.8 1154.4L1046.8 1152.2L1049.8 1152.9L1060.3 1160.4M1021.8 1174.9L1036.8 1192.4L1039.8 1194.9L1042.8 1193.4L1058.3 1177.9M1098.4 1164.0L1109.9 1161.5L1119.9 1159.3L1122.9 1160.0L1133.4 1167.5M1094.9 1182.0L1109.9 1199.5L1112.9 1202.0L1115.9 1200.5L1131.4 1185.0M1171.5 1171.0L1183.0 1168.5L1193.0 1166.3L1196.0 1167.0L1206.5 1174.5M1168.0 1189.0L1183.0 1206.5L1186.0 1209.0L1189.0 1207.5L1204.5 1192.0M1244.6 1178.0L1256.1 1175.5L1266.1 1173.3L1269.1 1174.0L1279.6 1181.5M1241.1 1196.0L1256.1 1213.5L1259.1 1216.0L1262.1 1214.5L1277.6 1199.0M1317.7 1185.1L1329.2 1182.6L1339.2 1180.4L1342.2 1181.1L1352.7 1188.6M1314.2 1203.1L1329.2 1220.6L1332.2 1223.1L1335.2 1221.6L1350.7 1206.1M1390.8 1192.1L1402.3 1189.6L1412.3 1187.4L1415.3 1188.1L1425.8 1195.6M1387.3 1210.1L1402.3 1227.6L1405.3 1230.1L1408.3 1228.6L1423.8 1213.1M1463.9 1199.1L1475.4 1196.6L1485.4 1194.4L1488.4 1195.1L1498.9 1202.6M1460.4 1217.1L1475.4 1234.6L1478.4 1237.1L1481.4 1235.6L1496.9 1220.1M906.2 1199.4L943.2 1202.4M904.7 1220.4L940.7 1223.9M906.2 1199.4L904.7 1220.4M979.3 1206.4L1016.3 1209.4M977.8 1227.4L1013.8 1230.9M979.3 1206.4L977.8 1227.4M1052.4 1213.5L1089.4 1216.5M1050.9 1234.5L1086.9 1238.0M1052.4 1213.5L1050.9 1234.5M1125.5 1220.5L1162.5 1223.5M1124.0 1241.5L1160.0 1245.0M1125.5 1220.5L1124.0 1241.5M1198.6 1227.5L1235.6 1230.5M1197.1 1248.5L1233.1 1252.0M1198.6 1227.5L1197.1 1248.5M1271.7 1234.6L1308.7 1237.6M1270.2 1255.6L1306.2 1259.1M1271.7 1234.6L1270.2 1255.6M1344.8 1241.6L1381.8 1244.6M1343.3 1262.6L1379.3 1266.1M1344.8 1241.6L1343.3 1262.6M1417.9 1248.6L1454.9 1251.6M1416.4 1269.6L1452.4 1273.1M1417.9 1248.6L1416.4 1269.6M1491.0 1255.7L1528.0 1258.7M1489.5 1276.7L1525.5 1280.2M1491.0 1255.7L1489.5 1276.7M943.2 1202.4L963.7 1193.4L966.2 1192.9L968.7 1194.4L979.7 1206.4M941.2 1224.4L958.7 1237.4L961.7 1238.9L964.7 1237.9L978.2 1228.4M1016.3 1209.4L1036.8 1200.4L1039.3 1199.9L1041.8 1201.4L1052.8 1213.4M1014.3 1231.4L1031.8 1244.4L1034.8 1245.9L1037.8 1244.9L1051.3 1235.4M1089.4 1216.5L1109.9 1207.5L1112.4 1207.0L1114.9 1208.5L1125.9 1220.5M1087.4 1238.5L1104.9 1251.5L1107.9 1253.0L1110.9 1252.0L1124.4 1242.5M1162.5 1223.5L1183.0 1214.5L1185.5 1214.0L1188.0 1215.5L1199.0 1227.5M1160.5 1245.5L1178.0 1258.5L1181.0 1260.0L1184.0 1259.0L1197.5 1249.5M1235.6 1230.5L1256.1 1221.5L1258.6 1221.0L1261.1 1222.5L1272.1 1234.5M1233.6 1252.5L1251.1 1265.5L1254.1 1267.0L1257.1 1266.0L1270.6 1256.5M1308.7 1237.6L1329.2 1228.6L1331.7 1228.1L1334.2 1229.6L1345.2 1241.6M1306.7 1259.6L1324.2 1272.6L1327.2 1274.1L1330.2 1273.1L1343.7 1263.6M1381.8 1244.6L1402.3 1235.6L1404.8 1235.1L1407.3 1236.6L1418.3 1248.6M1379.8 1266.6L1397.3 1279.6L1400.3 1281.1L1403.3 1280.1L1416.8 1270.6M1454.9 1251.6L1475.4 1242.6L1477.9 1242.1L1480.4 1243.6L1491.4 1255.6M1452.9 1273.6L1470.4 1286.6L1473.4 1288.1L1476.4 1287.1L1489.9 1277.6M902.2 1257.9L938.2 1260.9M901.2 1276.4L937.7 1280.9M901.7 1255.9L901.2 1276.4M975.3 1264.9L1011.3 1267.9M974.3 1283.4L1010.8 1287.9M974.8 1262.9L974.3 1283.4M1048.4 1272.0L1084.4 1275.0M1047.4 1290.5L1083.9 1295.0M1047.9 1270.0L1047.4 1290.5M1121.5 1279.0L1157.5 1282.0M1120.5 1297.5L1157.0 1302.0M1121.0 1277.0L1120.5 1297.5M1194.6 1286.0L1230.6 1289.0M1193.6 1304.5L1230.1 1309.0M1194.1 1284.0L1193.6 1304.5M1267.7 1293.1L1303.7 1296.1M1266.7 1311.6L1303.2 1316.1M1267.2 1291.1L1266.7 1311.6M1340.8 1300.1L1376.8 1303.1M1339.8 1318.6L1376.3 1323.1M1340.3 1298.1L1339.8 1318.6M1413.9 1307.1L1449.9 1310.1M1412.9 1325.6L1449.4 1330.1M1413.4 1305.1L1412.9 1325.6M1487.0 1314.2L1523.0 1317.2M1486.0 1332.7L1522.5 1337.2M1486.5 1312.2L1486.0 1332.7M938.7 1259.9L958.2 1244.9L960.7 1243.9L963.2 1244.9L970.7 1252.9L975.2 1259.9L975.7 1263.9M938.2 1278.4L944.7 1278.4L958.7 1285.9L961.2 1286.9L963.7 1286.4L974.2 1281.9M1011.8 1266.9L1031.3 1251.9L1033.8 1250.9L1036.3 1251.9L1043.8 1259.9L1048.3 1266.9L1048.8 1270.9M1011.3 1285.4L1017.8 1285.4L1031.8 1292.9L1034.3 1293.9L1036.8 1293.4L1047.3 1288.9M1084.9 1274.0L1104.4 1259.0L1106.9 1258.0L1109.4 1259.0L1116.9 1267.0L1121.4 1274.0L1121.9 1278.0M1084.4 1292.5L1090.9 1292.5L1104.9 1300.0L1107.4 1301.0L1109.9 1300.5L1120.4 1296.0M1158.0 1281.0L1177.5 1266.0L1180.0 1265.0L1182.5 1266.0L1190.0 1274.0L1194.5 1281.0L1195.0 1285.0M1157.5 1299.5L1164.0 1299.5L1178.0 1307.0L1180.5 1308.0L1183.0 1307.5L1193.5 1303.0M1231.1 1288.0L1250.6 1273.0L1253.1 1272.0L1255.6 1273.0L1263.1 1281.0L1267.6 1288.0L1268.1 1292.0M1230.6 1306.5L1237.1 1306.5L1251.1 1314.0L1253.6 1315.0L1256.1 1314.5L1266.6 1310.0M1304.2 1295.1L1323.7 1280.1L1326.2 1279.1L1328.7 1280.1L1336.2 1288.1L1340.7 1295.1L1341.2 1299.1M1303.7 1313.6L1310.2 1313.6L1324.2 1321.1L1326.7 1322.1L1329.2 1321.6L1339.7 1317.1M1377.3 1302.1L1396.8 1287.1L1399.3 1286.1L1401.8 1287.1L1409.3 1295.1L1413.8 1302.1L1414.3 1306.1M1376.8 1320.6L1383.3 1320.6L1397.3 1328.1L1399.8 1329.1L1402.3 1328.6L1412.8 1324.1M1450.4 1309.1L1469.9 1294.1L1472.4 1293.1L1474.9 1294.1L1482.4 1302.1L1486.9 1309.1L1487.4 1313.1M1449.9 1327.6L1456.4 1327.6L1470.4 1335.1L1472.9 1336.1L1475.4 1335.6L1485.9 1331.1M903.7 1308.4L939.7 1311.9M903.2 1323.9L940.7 1327.9M903.2 1303.9L903.7 1323.9M976.8 1315.4L1012.8 1318.9M976.3 1330.9L1013.8 1334.9M976.3 1310.9L976.8 1330.9M1049.9 1322.5L1085.9 1326.0M1049.4 1338.0L1086.9 1342.0M1049.4 1318.0L1049.9 1338.0M1123.0 1329.5L1159.0 1333.0M1122.5 1345.0L1160.0 1349.0M1122.5 1325.0L1123.0 1345.0M1196.1 1336.5L1232.1 1340.0M1195.6 1352.0L1233.1 1356.0M1195.6 1332.0L1196.1 1352.0M1269.2 1343.6L1305.2 1347.1M1268.7 1359.1L1306.2 1363.1M1268.7 1339.1L1269.2 1359.1M1342.3 1350.6L1378.3 1354.1M1341.8 1366.1L1379.3 1370.1M1341.8 1346.1L1342.3 1366.1M1415.4 1357.6L1451.4 1361.1M1414.9 1373.1L1452.4 1377.1M1414.9 1353.1L1415.4 1373.1M1488.5 1364.7L1524.5 1368.2M1488.0 1380.2L1525.5 1384.2M1488.0 1360.2L1488.5 1380.2M940.2 1311.9L940.2 1306.9L957.7 1291.9L960.2 1290.9L962.7 1291.9L970.7 1299.9L975.7 1306.9L976.4 1311.9M941.7 1321.9L948.7 1320.4L960.7 1321.9L976.2 1323.9M1013.3 1318.9L1013.3 1313.9L1030.8 1298.9L1033.3 1297.9L1035.8 1298.9L1043.8 1306.9L1048.8 1313.9L1049.5 1318.9M1014.8 1328.9L1021.8 1327.4L1033.8 1328.9L1049.3 1330.9M1086.4 1326.0L1086.4 1321.0L1103.9 1306.0L1106.4 1305.0L1108.9 1306.0L1116.9 1314.0L1121.9 1321.0L1122.6 1326.0M1087.9 1336.0L1094.9 1334.5L1106.9 1336.0L1122.4 1338.0M1159.5 1333.0L1159.5 1328.0L1177.0 1313.0L1179.5 1312.0L1182.0 1313.0L1190.0 1321.0L1195.0 1328.0L1195.7 1333.0M1161.0 1343.0L1168.0 1341.5L1180.0 1343.0L1195.5 1345.0M1232.6 1340.0L1232.6 1335.0L1250.1 1320.0L1252.6 1319.0L1255.1 1320.0L1263.1 1328.0L1268.1 1335.0L1268.8 1340.0M1234.1 1350.0L1241.1 1348.5L1253.1 1350.0L1268.6 1352.0M1305.7 1347.1L1305.7 1342.1L1323.2 1327.1L1325.7 1326.1L1328.2 1327.1L1336.2 1335.1L1341.2 1342.1L1341.9 1347.1M1307.2 1357.1L1314.2 1355.6L1326.2 1357.1L1341.7 1359.1M1378.8 1354.1L1378.8 1349.1L1396.3 1334.1L1398.8 1333.1L1401.3 1334.1L1409.3 1342.1L1414.3 1349.1L1415.0 1354.1M1380.3 1364.1L1387.3 1362.6L1399.3 1364.1L1414.8 1366.1M1451.9 1361.1L1451.9 1356.1L1469.4 1341.1L1471.9 1340.1L1474.4 1341.1L1482.4 1349.1L1487.4 1356.1L1488.1 1361.1M1453.4 1371.1L1460.4 1369.6L1472.4 1371.1L1487.9 1373.1M947.2 1070.9L947.2 1064.4L989.2 1068.4L989.2 1073.4M934.2 1081.9L939.2 1070.9L976.7 1074.4M934.7 1079.4L973.7 1082.4M984.7 1068.9L984.7 1073.4L987.7 1079.9L993.7 1084.9L998.7 1088.4M989.2 1073.4L994.7 1075.9L997.2 1081.9L999.7 1088.9M992.2 1074.9L995.7 1082.9M907.7 1341.9L909.7 1345.4L945.7 1348.9M909.7 1345.4L910.7 1354.4L948.7 1357.9M918.2 1355.9L918.2 1362.9M954.7 1361.4L954.7 1366.9M958.7 1362.9L958.7 1367.3M1020.3 1077.9L1020.3 1071.4L1062.3 1075.4L1062.3 1080.4M1007.3 1088.9L1012.3 1077.9L1049.8 1081.4M1007.8 1086.4L1046.8 1089.4M1057.8 1075.9L1057.8 1080.4L1060.8 1086.9L1066.8 1091.9L1071.8 1095.4M1062.3 1080.4L1067.8 1082.9L1070.3 1088.9L1072.8 1095.9M1065.3 1081.9L1068.8 1089.9M980.8 1348.9L982.8 1352.4L1018.8 1355.9M982.8 1352.4L983.8 1361.4L1021.8 1364.9M991.3 1362.9L991.3 1369.9M1027.8 1368.4L1027.8 1373.9M1031.8 1369.9L1031.8 1374.3M1093.4 1085.0L1093.4 1078.5L1135.4 1082.5L1135.4 1087.5M1080.4 1096.0L1085.4 1085.0L1122.9 1088.5M1080.9 1093.5L1119.9 1096.5M1130.9 1083.0L1130.9 1087.5L1133.9 1094.0L1139.9 1099.0L1144.9 1102.5M1135.4 1087.5L1140.9 1090.0L1143.4 1096.0L1145.9 1103.0M1138.4 1089.0L1141.9 1097.0M1053.9 1356.0L1055.9 1359.5L1091.9 1363.0M1055.9 1359.5L1056.9 1368.5L1094.9 1372.0M1064.4 1370.0L1064.4 1377.0M1100.9 1375.5L1100.9 1381.0M1104.9 1377.0L1104.9 1381.4M1166.5 1092.0L1166.5 1085.5L1208.5 1089.5L1208.5 1094.5M1153.5 1103.0L1158.5 1092.0L1196.0 1095.5M1154.0 1100.5L1193.0 1103.5M1204.0 1090.0L1204.0 1094.5L1207.0 1101.0L1213.0 1106.0L1218.0 1109.5M1208.5 1094.5L1214.0 1097.0L1216.5 1103.0L1219.0 1110.0M1211.5 1096.0L1215.0 1104.0M1127.0 1363.0L1129.0 1366.5L1165.0 1370.0M1129.0 1366.5L1130.0 1375.5L1168.0 1379.0M1137.5 1377.0L1137.5 1384.0M1174.0 1382.5L1174.0 1388.0M1178.0 1384.0L1178.0 1388.4M1239.6 1099.0L1239.6 1092.5L1281.6 1096.5L1281.6 1101.5M1226.6 1110.0L1231.6 1099.0L1269.1 1102.5M1227.1 1107.5L1266.1 1110.5M1277.1 1097.0L1277.1 1101.5L1280.1 1108.0L1286.1 1113.0L1291.1 1116.5M1281.6 1101.5L1287.1 1104.0L1289.6 1110.0L1292.1 1117.0M1284.6 1103.0L1288.1 1111.0M1200.1 1370.0L1202.1 1373.5L1238.1 1377.0M1202.1 1373.5L1203.1 1382.5L1241.1 1386.0M1210.6 1384.0L1210.6 1391.0M1247.1 1389.5L1247.1 1395.0M1251.1 1391.0L1251.1 1395.4M1312.7 1106.1L1312.7 1099.6L1354.7 1103.6L1354.7 1108.6M1299.7 1117.1L1304.7 1106.1L1342.2 1109.6M1300.2 1114.6L1339.2 1117.6M1350.2 1104.1L1350.2 1108.6L1353.2 1115.1L1359.2 1120.1L1364.2 1123.6M1354.7 1108.6L1360.2 1111.1L1362.7 1117.1L1365.2 1124.1M1357.7 1110.1L1361.2 1118.1M1273.2 1377.1L1275.2 1380.6L1311.2 1384.1M1275.2 1380.6L1276.2 1389.6L1314.2 1393.1M1283.7 1391.1L1283.7 1398.1M1320.2 1396.6L1320.2 1402.1M1324.2 1398.1L1324.2 1402.5M1385.8 1113.1L1385.8 1106.6L1427.8 1110.6L1427.8 1115.6M1372.8 1124.1L1377.8 1113.1L1415.3 1116.6M1373.3 1121.6L1412.3 1124.6M1423.3 1111.1L1423.3 1115.6L1426.3 1122.1L1432.3 1127.1L1437.3 1130.6M1427.8 1115.6L1433.3 1118.1L1435.8 1124.1L1438.3 1131.1M1430.8 1117.1L1434.3 1125.1M1346.3 1384.1L1348.3 1387.6L1384.3 1391.1M1348.3 1387.6L1349.3 1396.6L1387.3 1400.1M1356.8 1398.1L1356.8 1405.1M1393.3 1403.6L1393.3 1409.1M1397.3 1405.1L1397.3 1409.5M1458.9 1120.1L1458.9 1113.6L1500.9 1117.6L1500.9 1122.6M1445.9 1131.1L1450.9 1120.1L1488.4 1123.6M1446.4 1128.6L1485.4 1131.6M1496.4 1118.1L1496.4 1122.6L1499.4 1129.1L1505.4 1134.1L1510.4 1137.6M1500.9 1122.6L1506.4 1125.1L1508.9 1131.1L1511.4 1138.1M1503.9 1124.1L1507.4 1132.1M1419.4 1391.1L1421.4 1394.6L1457.4 1398.1M1421.4 1394.6L1422.4 1403.6L1460.4 1407.1M1429.9 1405.1L1429.9 1412.1M1466.4 1410.6L1466.4 1416.1M1470.4 1412.1L1470.4 1416.5M1532.0 1127.2L1532.0 1120.7L1574.0 1124.7M1519.0 1138.2L1524.0 1127.2L1561.5 1130.7M1519.5 1135.7L1558.5 1138.7M1492.5 1398.2L1494.5 1401.7L1530.5 1405.2M1494.5 1401.7L1495.5 1410.7L1533.5 1414.2M1503.0 1412.2L1503.0 1419.2M1539.5 1417.7L1539.5 1423.2M1543.5 1419.2L1543.5 1423.6M976.7 1074.4L972.2 1082.9L971.2 1086.9L972.7 1092.9L976.7 1098.9L980.7 1103.9L986.7 1108.2L990.7 1106.9L995.7 1102.9L1001.7 1096.9L1005.7 1092.9L1007.7 1088.9M976.7 1074.9L978.7 1081.9L982.7 1086.9L990.7 1090.9L998.7 1091.5L1006.7 1090.9M945.7 1350.9L945.7 1342.9L950.7 1335.9L959.7 1328.9L962.7 1327.7L965.7 1327.9L973.7 1334.9L979.7 1342.9L982.7 1347.9L983.7 1360.9M948.7 1357.9L948.7 1350.9L952.7 1347.9L963.7 1345.9L976.7 1347.9L982.7 1348.9M954.7 1361.4L956.7 1355.9L963.7 1349.9L974.7 1347.9M958.7 1362.9L960.7 1357.9L966.7 1351.9L973.7 1348.9M963.7 1358.9L967.7 1359.9L971.7 1352.9M1049.8 1081.4L1045.3 1089.9L1044.3 1093.9L1045.8 1099.9L1049.8 1105.9L1053.8 1110.9L1059.8 1115.2L1063.8 1113.9L1068.8 1109.9L1074.8 1103.9L1078.8 1099.9L1080.8 1095.9M1049.8 1081.9L1051.8 1088.9L1055.8 1093.9L1063.8 1097.9L1071.8 1098.5L1079.8 1097.9M1018.8 1357.9L1018.8 1349.9L1023.8 1342.9L1032.8 1335.9L1035.8 1334.7L1038.8 1334.9L1046.8 1341.9L1052.8 1349.9L1055.8 1354.9L1056.8 1367.9M1021.8 1364.9L1021.8 1357.9L1025.8 1354.9L1036.8 1352.9L1049.8 1354.9L1055.8 1355.9M1027.8 1368.4L1029.8 1362.9L1036.8 1356.9L1047.8 1354.9M1031.8 1369.9L1033.8 1364.9L1039.8 1358.9L1046.8 1355.9M1036.8 1365.9L1040.8 1366.9L1044.8 1359.9M1122.9 1088.5L1118.4 1097.0L1117.4 1101.0L1118.9 1107.0L1122.9 1113.0L1126.9 1118.0L1132.9 1122.3L1136.9 1121.0L1141.9 1117.0L1147.9 1111.0L1151.9 1107.0L1153.9 1103.0M1122.9 1089.0L1124.9 1096.0L1128.9 1101.0L1136.9 1105.0L1144.9 1105.6L1152.9 1105.0M1091.9 1365.0L1091.9 1357.0L1096.9 1350.0L1105.9 1343.0L1108.9 1341.8L1111.9 1342.0L1119.9 1349.0L1125.9 1357.0L1128.9 1362.0L1129.9 1375.0M1094.9 1372.0L1094.9 1365.0L1098.9 1362.0L1109.9 1360.0L1122.9 1362.0L1128.9 1363.0M1100.9 1375.5L1102.9 1370.0L1109.9 1364.0L1120.9 1362.0M1104.9 1377.0L1106.9 1372.0L1112.9 1366.0L1119.9 1363.0M1109.9 1373.0L1113.9 1374.0L1117.9 1367.0M1196.0 1095.5L1191.5 1104.0L1190.5 1108.0L1192.0 1114.0L1196.0 1120.0L1200.0 1125.0L1206.0 1129.3L1210.0 1128.0L1215.0 1124.0L1221.0 1118.0L1225.0 1114.0L1227.0 1110.0M1196.0 1096.0L1198.0 1103.0L1202.0 1108.0L1210.0 1112.0L1218.0 1112.6L1226.0 1112.0M1165.0 1372.0L1165.0 1364.0L1170.0 1357.0L1179.0 1350.0L1182.0 1348.8L1185.0 1349.0L1193.0 1356.0L1199.0 1364.0L1202.0 1369.0L1203.0 1382.0M1168.0 1379.0L1168.0 1372.0L1172.0 1369.0L1183.0 1367.0L1196.0 1369.0L1202.0 1370.0M1174.0 1382.5L1176.0 1377.0L1183.0 1371.0L1194.0 1369.0M1178.0 1384.0L1180.0 1379.0L1186.0 1373.0L1193.0 1370.0M1183.0 1380.0L1187.0 1381.0L1191.0 1374.0M1269.1 1102.5L1264.6 1111.0L1263.6 1115.0L1265.1 1121.0L1269.1 1127.0L1273.1 1132.0L1279.1 1136.3L1283.1 1135.0L1288.1 1131.0L1294.1 1125.0L1298.1 1121.0L1300.1 1117.0M1269.1 1103.0L1271.1 1110.0L1275.1 1115.0L1283.1 1119.0L1291.1 1119.6L1299.1 1119.0M1238.1 1379.0L1238.1 1371.0L1243.1 1364.0L1252.1 1357.0L1255.1 1355.8L1258.1 1356.0L1266.1 1363.0L1272.1 1371.0L1275.1 1376.0L1276.1 1389.0M1241.1 1386.0L1241.1 1379.0L1245.1 1376.0L1256.1 1374.0L1269.1 1376.0L1275.1 1377.0M1247.1 1389.5L1249.1 1384.0L1256.1 1378.0L1267.1 1376.0M1251.1 1391.0L1253.1 1386.0L1259.1 1380.0L1266.1 1377.0M1256.1 1387.0L1260.1 1388.0L1264.1 1381.0M1342.2 1109.6L1337.7 1118.1L1336.7 1122.1L1338.2 1128.1L1342.2 1134.1L1346.2 1139.1L1352.2 1143.4L1356.2 1142.1L1361.2 1138.1L1367.2 1132.1L1371.2 1128.1L1373.2 1124.1M1342.2 1110.1L1344.2 1117.1L1348.2 1122.1L1356.2 1126.1L1364.2 1126.7L1372.2 1126.1M1311.2 1386.1L1311.2 1378.1L1316.2 1371.1L1325.2 1364.1L1328.2 1362.9L1331.2 1363.1L1339.2 1370.1L1345.2 1378.1L1348.2 1383.1L1349.2 1396.1M1314.2 1393.1L1314.2 1386.1L1318.2 1383.1L1329.2 1381.1L1342.2 1383.1L1348.2 1384.1M1320.2 1396.6L1322.2 1391.1L1329.2 1385.1L1340.2 1383.1M1324.2 1398.1L1326.2 1393.1L1332.2 1387.1L1339.2 1384.1M1329.2 1394.1L1333.2 1395.1L1337.2 1388.1M1415.3 1116.6L1410.8 1125.1L1409.8 1129.1L1411.3 1135.1L1415.3 1141.1L1419.3 1146.1L1425.3 1150.4L1429.3 1149.1L1434.3 1145.1L1440.3 1139.1L1444.3 1135.1L1446.3 1131.1M1415.3 1117.1L1417.3 1124.1L1421.3 1129.1L1429.3 1133.1L1437.3 1133.7L1445.3 1133.1M1384.3 1393.1L1384.3 1385.1L1389.3 1378.1L1398.3 1371.1L1401.3 1369.9L1404.3 1370.1L1412.3 1377.1L1418.3 1385.1L1421.3 1390.1L1422.3 1403.1M1387.3 1400.1L1387.3 1393.1L1391.3 1390.1L1402.3 1388.1L1415.3 1390.1L1421.3 1391.1M1393.3 1403.6L1395.3 1398.1L1402.3 1392.1L1413.3 1390.1M1397.3 1405.1L1399.3 1400.1L1405.3 1394.1L1412.3 1391.1M1402.3 1401.1L1406.3 1402.1L1410.3 1395.1M1488.4 1123.6L1483.9 1132.1L1482.9 1136.1L1484.4 1142.1L1488.4 1148.1L1492.4 1153.1L1498.4 1157.4L1502.4 1156.1L1507.4 1152.1L1513.4 1146.1L1517.4 1142.1L1519.4 1138.1M1488.4 1124.1L1490.4 1131.1L1494.4 1136.1L1502.4 1140.1L1510.4 1140.7L1518.4 1140.1M1457.4 1400.1L1457.4 1392.1L1462.4 1385.1L1471.4 1378.1L1474.4 1376.9L1477.4 1377.1L1485.4 1384.1L1491.4 1392.1L1494.4 1397.1L1495.4 1410.1M1460.4 1407.1L1460.4 1400.1L1464.4 1397.1L1475.4 1395.1L1488.4 1397.1L1494.4 1398.1M1466.4 1410.6L1468.4 1405.1L1475.4 1399.1L1486.4 1397.1M1470.4 1412.1L1472.4 1407.1L1478.4 1401.1L1485.4 1398.1M1475.4 1408.1L1479.4 1409.1L1483.4 1402.1"/>
<path class="k" stroke-width="2.6" style="stroke-width:2.6" d="M963.7 1102.4L959.2 1116.9M1036.8 1109.4L1032.3 1123.9M1109.9 1116.5L1105.4 1131.0M1183.0 1123.5L1178.5 1138.0M1256.1 1130.5L1251.6 1145.0M1329.2 1137.6L1324.7 1152.1M1402.3 1144.6L1397.8 1159.1M1475.4 1151.6L1470.9 1166.1M1548.5 1158.7L1544.0 1173.2M952.2 1147.4L948.7 1166.9M1025.3 1154.4L1021.8 1173.9M1098.4 1161.5L1094.9 1181.0M1171.5 1168.5L1168.0 1188.0M1244.6 1175.5L1241.1 1195.0M1317.7 1182.6L1314.2 1202.1M1390.8 1189.6L1387.3 1209.1M1463.9 1196.6L1460.4 1216.1M1537.0 1203.7L1533.5 1223.2M943.2 1202.9L940.7 1223.9M1016.3 1209.9L1013.8 1230.9M1089.4 1217.0L1086.9 1238.0M1162.5 1224.0L1160.0 1245.0M1235.6 1231.0L1233.1 1252.0M1308.7 1238.1L1306.2 1259.1M1381.8 1245.1L1379.3 1266.1M1454.9 1252.1L1452.4 1273.1M1528.0 1259.2L1525.5 1280.2M938.7 1260.9L937.7 1280.9M1011.8 1267.9L1010.8 1287.9M1084.9 1275.0L1083.9 1295.0M1158.0 1282.0L1157.0 1302.0M1231.1 1289.0L1230.1 1309.0M1304.2 1296.1L1303.2 1316.1M1377.3 1303.1L1376.3 1323.1M1450.4 1310.1L1449.4 1330.1M1523.5 1317.2L1522.5 1337.2M939.7 1311.9L940.7 1327.4M1012.8 1318.9L1013.8 1334.4M1085.9 1326.0L1086.9 1341.5M1159.0 1333.0L1160.0 1348.5M1232.1 1340.0L1233.1 1355.5M1305.2 1347.1L1306.2 1362.6M1378.3 1354.1L1379.3 1369.6M1451.4 1361.1L1452.4 1376.6M1524.5 1368.2L1525.5 1383.7M917.7 1362.9L958.7 1367.1M990.8 1369.9L1031.8 1374.1M1063.9 1377.0L1104.9 1381.2M1137.0 1384.0L1178.0 1388.2M1210.1 1391.0L1251.1 1395.2M1283.2 1398.1L1324.2 1402.3M1356.3 1405.1L1397.3 1409.3M1429.4 1412.1L1470.4 1416.3M1502.5 1419.2L1543.5 1423.4M998.7 1088.7L1007.7 1089.5M1071.8 1095.7L1080.8 1096.5M1144.9 1102.8L1153.9 1103.6M1218.0 1109.8L1227.0 1110.6M1291.1 1116.8L1300.1 1117.6M1364.2 1123.9L1373.2 1124.7M1437.3 1130.9L1446.3 1131.7M1510.4 1137.9L1519.4 1138.7"/>
<path class="k" d="M932.5 1077.5C930.4 1083.8 924.2 1100.4 920.0 1115.0C915.8 1129.6 910.8 1144.2 907.5 1165.0C904.2 1185.8 901.1 1219.2 900.0 1240.0C898.9 1260.8 899.8 1274.2 901.0 1290.0C902.2 1305.8 905.6 1324.2 907.5 1335.0C909.4 1345.8 911.7 1351.7 912.5 1355.0M934.0 1082.5C932.5 1087.1 928.8 1097.1 925.0 1110.0C921.2 1122.9 914.5 1140.4 911.0 1160.0C907.5 1179.6 905.0 1205.8 904.0 1227.5C903.0 1249.2 903.8 1271.2 905.0 1290.0C906.2 1308.8 910.0 1331.7 911.0 1340.0M1548.5 1158.6C1549.6 1159.5 1552.2 1162.3 1555.0 1164.0C1557.8 1165.7 1562.3 1168.5 1565.0 1169.0C1567.7 1169.5 1569.8 1168.5 1571.0 1167.0C1572.2 1165.5 1572.5 1162.8 1572.0 1160.0C1571.5 1157.2 1570.3 1153.5 1568.0 1150.0C1565.7 1146.5 1560.7 1141.8 1558.0 1139.0C1555.3 1136.2 1553.0 1134.0 1552.0 1133.0M1544.0 1173.5C1545.5 1174.9 1550.3 1178.9 1553.0 1182.0C1555.7 1185.1 1558.7 1189.0 1560.0 1192.0C1561.3 1195.0 1561.5 1197.7 1561.0 1200.0C1560.5 1202.3 1558.8 1204.7 1557.0 1206.0C1555.2 1207.3 1552.8 1208.2 1550.0 1208.0C1547.2 1207.8 1542.2 1205.7 1540.0 1205.0C1537.8 1204.3 1537.1 1204.2 1536.5 1204.0M1533.5 1223.0C1535.0 1224.2 1539.6 1226.3 1542.5 1230.0C1545.4 1233.7 1549.8 1240.4 1551.0 1245.0C1552.2 1249.6 1551.8 1255.0 1550.0 1257.5C1548.2 1260.0 1543.7 1259.8 1540.0 1260.0C1536.3 1260.2 1530.0 1258.8 1528.0 1258.6M1525.5 1280.0C1527.9 1280.8 1536.3 1282.1 1540.0 1285.0C1543.7 1287.9 1546.8 1292.9 1547.5 1297.5C1548.2 1302.1 1546.5 1309.4 1544.0 1312.5C1541.5 1315.6 1536.0 1315.2 1532.5 1316.0C1529.0 1316.8 1524.6 1316.8 1523.0 1317.0M1522.5 1337.0C1525.4 1337.1 1536.1 1335.8 1540.0 1337.5C1543.9 1339.2 1545.6 1343.8 1546.0 1347.5C1546.4 1351.2 1544.8 1356.9 1542.5 1360.0C1540.2 1363.1 1535.5 1364.7 1532.5 1366.0C1529.5 1367.3 1525.8 1367.7 1524.5 1368.0M1525.5 1383.6C1528.3 1383.0 1538.4 1380.2 1542.5 1380.0C1546.6 1379.8 1549.2 1380.4 1550.0 1382.5C1550.8 1384.6 1549.2 1389.2 1547.5 1392.5C1545.8 1395.8 1542.6 1399.8 1540.0 1402.5C1537.4 1405.2 1533.3 1407.9 1532.0 1409.0M1574.0 1125.0L1586.0 1140.0L1595.0 1152.0L1601.5 1162.0M1562.5 1132.0L1573.0 1139.5L1583.0 1147.0M1570.0 1126.5L1582.0 1141.5M1592.5 1152.0C1591.2 1153.3 1587.4 1156.3 1585.0 1160.0C1582.6 1163.7 1580.5 1168.2 1578.0 1174.0C1575.5 1179.8 1572.5 1186.5 1570.0 1195.0C1567.5 1203.5 1565.2 1213.8 1563.0 1225.0C1560.8 1236.2 1558.5 1249.5 1557.0 1262.0C1555.5 1274.5 1554.3 1285.8 1554.0 1300.0C1553.7 1314.2 1554.0 1333.3 1555.0 1347.5C1556.0 1361.7 1558.3 1375.6 1560.0 1385.0C1561.7 1394.4 1564.2 1400.8 1565.0 1404.0M1562.5 1262.0C1562.1 1270.0 1560.0 1295.8 1560.0 1310.0C1560.0 1324.2 1560.8 1336.7 1562.5 1347.5C1564.2 1358.3 1567.9 1370.0 1570.0 1375.0C1572.1 1380.0 1572.5 1378.8 1575.0 1377.5C1577.5 1376.2 1582.5 1370.1 1585.0 1367.5C1587.5 1364.9 1589.2 1362.9 1590.0 1362.0M1503.5 1423.0L1533.8 1426.3L1565.0 1402.5M1543.5 1423.5L1565.0 1404.0L1580.0 1385.0L1590.0 1364.0M1503.5 1419.0L1540.0 1422.8M1591.5 1162.0L1724.0 1175.0M1590.0 1362.0L1704.0 1372.5"/>
<path class="k" d="M1734.5 1150.5L1755.0 1152.0M1732.0 1162.0L1751.0 1164.5M1734.5 1150.5L1732.0 1162.0M1755.0 1153.0L1751.0 1164.5M1755.0 1154.0L1760.0 1160.0L1766.0 1162.5L1778.0 1162.0L1789.0 1164.5M1751.0 1165.0L1752.0 1172.0L1758.0 1182.0L1765.0 1190.0L1770.0 1190.0L1777.0 1185.0L1784.0 1178.0L1787.0 1172.0L1789.0 1164.5M1793.5 1156.1L1814.0 1157.6M1791.0 1167.6L1810.0 1170.1M1793.5 1156.1L1791.0 1167.6M1814.0 1158.6L1810.0 1170.1M1814.0 1159.6L1819.0 1165.6L1825.0 1168.1L1837.0 1167.6L1848.0 1170.1M1810.0 1170.6L1811.0 1177.6L1817.0 1187.6L1824.0 1195.6L1829.0 1195.6L1836.0 1190.6L1843.0 1183.6L1846.0 1177.6L1848.0 1170.1M1722.0 1190.5L1742.0 1193.0M1718.0 1208.5L1738.5 1211.0M1722.0 1191.0L1718.5 1208.5M1742.0 1195.0L1739.0 1211.0M1743.0 1195.0L1746.0 1198.0L1755.0 1197.5L1766.0 1194.5L1769.0 1195.0L1778.0 1199.5M1738.5 1211.5L1742.0 1218.0L1750.0 1228.0L1757.0 1234.5L1760.0 1233.5L1768.0 1227.0L1774.0 1221.0L1775.5 1217.5L1778.0 1200.0M1781.0 1196.1L1801.0 1198.6M1777.0 1214.1L1797.5 1216.6M1781.0 1196.6L1777.5 1214.1M1801.0 1200.6L1798.0 1216.6M1802.0 1200.6L1805.0 1203.6L1814.0 1203.1L1825.0 1200.1L1828.0 1200.6L1837.0 1205.1M1797.5 1217.1L1801.0 1223.6L1809.0 1233.6L1816.0 1240.1L1819.0 1239.1L1827.0 1232.6L1833.0 1226.6L1834.5 1223.1L1837.0 1205.6M1712.0 1244.0L1732.5 1246.5M1706.5 1265.0L1730.5 1267.5M1710.0 1250.0L1710.0 1264.0M1733.0 1247.0L1730.5 1267.5M1733.0 1247.0L1738.0 1246.5L1756.0 1239.0L1769.0 1249.5M1731.0 1268.0L1750.0 1284.0L1754.0 1283.0L1767.0 1271.5L1769.0 1250.0M1771.0 1249.6L1791.5 1252.1M1765.5 1270.6L1789.5 1273.1M1769.0 1255.6L1769.0 1269.6M1792.0 1252.6L1789.5 1273.1M1792.0 1252.6L1797.0 1252.1L1815.0 1244.6L1828.0 1255.1M1790.0 1273.6L1809.0 1289.6L1813.0 1288.6L1826.0 1277.1L1828.0 1255.6M1705.0 1302.0L1727.5 1304.0M1702.0 1321.5L1727.0 1325.0M1706.5 1303.0L1706.5 1322.0M1727.5 1304.5L1727.0 1325.0M1728.0 1304.0L1732.0 1302.0L1747.0 1290.5L1752.0 1290.0L1760.0 1298.0L1763.5 1304.0L1764.5 1309.0M1727.5 1324.0L1732.0 1324.0L1740.0 1328.0L1749.0 1333.5L1752.0 1333.0L1762.0 1327.0L1763.5 1328.0L1764.5 1308.0M1764.0 1307.6L1786.5 1309.6M1761.0 1327.1L1786.0 1330.6M1765.5 1308.6L1765.5 1327.6M1786.5 1310.1L1786.0 1330.6M1787.0 1309.6L1791.0 1307.6L1806.0 1296.1L1811.0 1295.6L1819.0 1303.6L1822.5 1309.6L1823.5 1314.6M1786.5 1329.6L1791.0 1329.6L1799.0 1333.6L1808.0 1339.1L1811.0 1338.6L1821.0 1332.6L1822.5 1333.6L1823.5 1313.6M1706.5 1357.5L1727.0 1359.0M1706.5 1374.0L1727.0 1376.5M1706.5 1357.5L1706.5 1374.0M1727.0 1359.0L1727.0 1376.5M1727.5 1358.5L1727.5 1356.0L1735.0 1348.0L1746.0 1339.0L1750.0 1339.0L1758.0 1348.0L1762.0 1355.0L1764.0 1362.0M1727.5 1376.0L1730.0 1372.0L1738.0 1370.5L1750.0 1375.0L1763.5 1374.0L1764.0 1362.0M1765.5 1363.1L1786.0 1364.6M1765.5 1379.6L1786.0 1382.1M1765.5 1363.1L1765.5 1379.6M1786.0 1364.6L1786.0 1382.1M1786.5 1364.1L1786.5 1361.6L1794.0 1353.6L1805.0 1344.6L1809.0 1344.6L1817.0 1353.6L1821.0 1360.6L1823.0 1367.6M1786.5 1381.6L1789.0 1377.6L1797.0 1376.1L1809.0 1380.6L1822.5 1379.6L1823.0 1367.6M1852.0 1163.0C1853.3 1163.5 1857.2 1164.5 1860.0 1166.0C1862.8 1167.5 1867.5 1171.0 1869.0 1172.0M1847.0 1175.0C1848.3 1175.7 1852.2 1177.0 1855.0 1179.0C1857.8 1181.0 1862.0 1184.2 1864.0 1187.0C1866.0 1189.8 1866.8 1193.0 1867.0 1196.0C1867.2 1199.0 1866.2 1203.0 1865.0 1205.0C1863.8 1207.0 1862.5 1207.8 1860.0 1208.0C1857.5 1208.2 1853.7 1207.0 1850.0 1206.0C1846.3 1205.0 1840.0 1202.7 1838.0 1202.0M1835.0 1220.5C1836.5 1220.9 1841.2 1221.6 1844.0 1223.0C1846.8 1224.4 1850.0 1226.5 1852.0 1229.0C1854.0 1231.5 1855.3 1234.8 1856.0 1238.0C1856.7 1241.2 1856.7 1245.2 1856.0 1248.0C1855.3 1250.8 1854.0 1253.4 1852.0 1255.0C1850.0 1256.6 1847.8 1257.3 1844.0 1257.5C1840.2 1257.7 1831.5 1256.2 1829.0 1256.0M1826.5 1276.5C1827.9 1276.6 1832.1 1276.4 1835.0 1277.0C1837.9 1277.6 1841.5 1278.2 1844.0 1280.0C1846.5 1281.8 1848.8 1285.2 1850.0 1288.0C1851.2 1290.8 1851.3 1294.0 1851.0 1297.0C1850.7 1300.0 1849.8 1303.5 1848.0 1306.0C1846.2 1308.5 1843.0 1310.8 1840.0 1312.0C1837.0 1313.2 1832.8 1313.3 1830.0 1313.5C1827.2 1313.7 1824.2 1313.1 1823.0 1313.0M1822.5 1333.5C1825.1 1333.5 1834.2 1333.1 1838.0 1333.5C1841.8 1333.9 1843.2 1334.6 1845.0 1336.0C1846.8 1337.4 1847.9 1339.7 1848.5 1342.0C1849.1 1344.3 1848.9 1347.5 1848.5 1350.0C1848.1 1352.5 1847.4 1354.8 1846.0 1357.0C1844.6 1359.2 1842.3 1361.4 1840.0 1363.0C1837.7 1364.6 1834.8 1365.7 1832.0 1366.5C1829.2 1367.3 1824.5 1367.8 1823.0 1368.0M1823.0 1385.0C1825.5 1384.5 1833.7 1382.5 1838.0 1382.0C1842.3 1381.5 1846.8 1380.7 1849.0 1382.0C1851.2 1383.3 1851.7 1387.2 1851.5 1390.0C1851.3 1392.8 1849.9 1396.3 1848.0 1399.0C1846.1 1401.7 1843.0 1404.3 1840.0 1406.0C1837.0 1407.7 1832.2 1408.4 1830.0 1409.0C1827.8 1409.6 1827.5 1409.4 1827.0 1409.5M1737.0 1149.0L1737.0 1138.5L1746.5 1129.0L1752.0 1129.0L1755.0 1126.5L1777.0 1128.5L1780.0 1131.5L1780.5 1139.0M1780.5 1139.0C1780.9 1139.8 1781.8 1142.4 1783.0 1144.0C1784.2 1145.6 1785.8 1147.8 1788.0 1148.5C1790.2 1149.2 1794.7 1148.5 1796.0 1148.5M1745.0 1134.0L1766.0 1135.5L1768.0 1129.5M1746.5 1129.2L1767.0 1130.4M1766.0 1135.0C1765.7 1135.8 1764.0 1137.8 1764.0 1140.0C1764.0 1142.2 1764.7 1145.3 1766.0 1148.0C1767.3 1150.7 1769.8 1154.0 1772.0 1156.0C1774.2 1158.0 1776.7 1159.8 1779.0 1160.0C1781.3 1160.2 1783.5 1158.5 1786.0 1157.0C1788.5 1155.5 1791.8 1153.0 1794.0 1151.0C1796.2 1149.0 1798.0 1146.8 1799.0 1145.0C1800.0 1143.2 1799.8 1140.8 1800.0 1140.0M1769.0 1136.0C1769.7 1137.2 1771.2 1141.0 1773.0 1143.0C1774.8 1145.0 1777.5 1146.8 1780.0 1148.0C1782.5 1149.2 1786.7 1149.7 1788.0 1150.0M1776.0 1130.0C1776.3 1131.5 1776.8 1136.5 1778.0 1139.0C1779.2 1141.5 1782.2 1144.0 1783.0 1145.0M1800.0 1140.0L1803.0 1135.0L1810.0 1135.0L1812.5 1133.0L1836.0 1134.5L1838.5 1137.0L1839.0 1145.0M1839.0 1145.0C1839.5 1145.8 1840.7 1148.5 1842.0 1150.0C1843.3 1151.5 1844.8 1153.3 1847.0 1154.0C1849.2 1154.7 1853.2 1155.0 1855.0 1154.0C1856.8 1153.0 1857.3 1149.7 1858.0 1148.0C1858.7 1146.3 1858.1 1145.2 1859.0 1144.0C1859.9 1142.8 1861.8 1140.7 1863.5 1140.5C1865.2 1140.3 1867.1 1140.8 1869.0 1143.0C1870.9 1145.2 1873.5 1150.8 1875.0 1154.0C1876.5 1157.2 1877.4 1159.3 1878.0 1162.0C1878.6 1164.7 1878.4 1168.7 1878.5 1170.0M1803.0 1139.0L1823.0 1140.5L1825.0 1135.5M1804.0 1135.2L1824.0 1136.2M1824.5 1140.0C1824.2 1141.0 1822.9 1143.7 1823.0 1146.0C1823.1 1148.3 1823.7 1151.3 1825.0 1154.0C1826.3 1156.7 1828.8 1160.0 1831.0 1162.0C1833.2 1164.0 1835.7 1165.8 1838.0 1166.0C1840.3 1166.2 1842.5 1164.7 1845.0 1163.0C1847.5 1161.3 1850.8 1158.3 1853.0 1156.0C1855.2 1153.7 1857.2 1150.2 1858.0 1149.0M1827.0 1141.0C1827.7 1142.2 1829.2 1146.0 1831.0 1148.0C1832.8 1150.0 1835.5 1151.8 1838.0 1153.0C1840.5 1154.2 1844.7 1154.7 1846.0 1155.0M1834.5 1135.5C1834.8 1136.9 1835.3 1141.6 1836.5 1144.0C1837.7 1146.4 1840.7 1149.0 1841.5 1150.0M1736.5 1149.0L1729.0 1155.0L1725.0 1166.0L1724.5 1178.0L1722.0 1191.0L1718.0 1193.0L1714.0 1209.0L1713.5 1230.0L1709.0 1244.0L1706.5 1250.0M1734.0 1151.0L1730.0 1157.0L1727.5 1166.0M1720.5 1193.0L1716.5 1210.0M1706.5 1250.0L1706.5 1265.0L1708.0 1275.0L1705.0 1295.0L1702.0 1302.0L1701.5 1320.0L1705.0 1324.0L1705.5 1340.0L1702.0 1352.0L1702.5 1365.0L1706.5 1374.0L1705.5 1394.0L1710.0 1404.0M1731.0 1404.0C1731.1 1402.8 1730.8 1399.3 1731.5 1397.0C1732.2 1394.7 1732.4 1392.9 1735.0 1390.0C1737.6 1387.1 1744.0 1381.3 1747.0 1379.5C1750.0 1377.7 1750.5 1377.6 1753.0 1379.0C1755.5 1380.4 1759.8 1385.3 1762.0 1388.0C1764.2 1390.7 1764.8 1392.3 1766.0 1395.0C1767.2 1397.7 1768.5 1402.5 1769.0 1404.0M1769.0 1404.0L1769.0 1410.0L1775.0 1422.0L1777.0 1429.0L1803.0 1432.5M1706.0 1393.0L1711.5 1399.0L1730.0 1400.5M1711.5 1399.0L1713.5 1410.0L1733.0 1411.5L1738.0 1404.0M1738.0 1404.0C1739.7 1403.5 1744.3 1401.3 1748.0 1401.0C1751.7 1400.7 1756.8 1401.2 1760.0 1402.0C1763.2 1402.8 1766.2 1405.3 1767.5 1406.0M1713.5 1410.0L1715.0 1418.0L1720.0 1424.0L1744.0 1426.5M1739.0 1426.0C1739.3 1424.5 1739.5 1420.0 1741.0 1417.0C1742.5 1414.0 1745.8 1410.0 1748.0 1408.0C1750.2 1406.0 1751.0 1405.0 1754.0 1405.0C1757.0 1405.0 1764.0 1407.5 1766.0 1408.0M1744.0 1426.0C1744.3 1424.8 1744.3 1421.3 1746.0 1419.0C1747.7 1416.7 1750.7 1413.5 1754.0 1412.0C1757.3 1410.5 1764.0 1410.3 1766.0 1410.0M1744.0 1424.5L1752.5 1425.0L1757.0 1417.0L1758.0 1412.0M1790.0 1410.0C1790.2 1408.7 1790.0 1404.7 1791.0 1402.0C1792.0 1399.3 1793.5 1396.8 1796.0 1394.0C1798.5 1391.2 1803.3 1386.5 1806.0 1385.0C1808.7 1383.5 1809.5 1383.7 1812.0 1385.0C1814.5 1386.3 1818.7 1390.3 1821.0 1393.0C1823.3 1395.7 1824.9 1398.2 1826.0 1401.0C1827.1 1403.8 1827.2 1408.5 1827.5 1410.0M1827.5 1410.0L1828.0 1420.0L1833.0 1424.0L1835.0 1434.0M1769.0 1405.0L1790.0 1406.5M1770.0 1414.0L1792.0 1416.5L1797.0 1409.0M1797.0 1409.0C1798.7 1408.7 1803.3 1407.2 1807.0 1407.0C1810.7 1406.8 1815.7 1407.2 1819.0 1408.0C1822.3 1408.8 1825.7 1411.3 1827.0 1412.0M1798.0 1432.0C1798.3 1430.5 1798.5 1426.0 1800.0 1423.0C1801.5 1420.0 1804.7 1416.0 1807.0 1414.0C1809.3 1412.0 1811.0 1411.0 1814.0 1411.0C1817.0 1411.0 1823.2 1413.5 1825.0 1414.0M1803.0 1432.0C1803.3 1430.8 1803.3 1427.3 1805.0 1425.0C1806.7 1422.7 1809.7 1419.5 1813.0 1418.0C1816.3 1416.5 1823.0 1416.3 1825.0 1416.0M1803.0 1430.5L1811.5 1431.0L1816.0 1423.0L1817.0 1418.0M1828.0 1419.0C1830.0 1418.7 1835.7 1418.2 1840.0 1417.0C1844.3 1415.8 1851.0 1412.2 1854.0 1411.5C1857.0 1410.8 1857.5 1411.8 1858.0 1413.0C1858.5 1414.2 1858.3 1416.7 1857.0 1419.0C1855.7 1421.3 1852.8 1425.0 1850.0 1427.0C1847.2 1429.0 1842.5 1430.3 1840.0 1431.0C1837.5 1431.7 1835.8 1431.0 1835.0 1431.0M1835.0 1434.0C1835.8 1434.3 1836.7 1436.5 1840.0 1436.0C1843.3 1435.5 1850.5 1433.7 1855.0 1431.0C1859.5 1428.3 1863.2 1425.2 1867.0 1420.0C1870.8 1414.8 1874.8 1406.2 1878.0 1400.0C1881.2 1393.8 1883.7 1388.0 1886.0 1383.0C1888.3 1378.0 1891.0 1372.2 1892.0 1370.0M1706.5 1370.0L1706.0 1393.0M1871.0 1138.5C1872.0 1138.8 1874.5 1138.4 1877.0 1140.0C1879.5 1141.6 1883.0 1144.7 1886.0 1148.0C1889.0 1151.3 1892.5 1154.7 1895.0 1160.0C1897.5 1165.3 1899.3 1173.3 1901.0 1180.0C1902.7 1186.7 1904.1 1193.0 1905.0 1200.0C1905.9 1207.0 1906.2 1218.3 1906.5 1222.0M1860.0 1147.0C1861.7 1148.0 1867.3 1150.5 1870.0 1153.0C1872.7 1155.5 1874.8 1159.0 1876.0 1162.0C1877.2 1165.0 1877.2 1166.3 1877.0 1171.0C1876.8 1175.7 1876.2 1184.3 1875.0 1190.0C1873.8 1195.7 1871.8 1198.3 1870.0 1205.0C1868.2 1211.7 1865.8 1220.2 1864.0 1230.0C1862.2 1239.8 1859.8 1258.3 1859.0 1264.0M1859.0 1264.0C1858.3 1269.2 1855.9 1285.7 1855.0 1295.0C1854.1 1304.3 1853.7 1310.8 1853.5 1320.0C1853.3 1329.2 1853.6 1340.8 1854.0 1350.0C1854.4 1359.2 1855.0 1367.5 1856.0 1375.0C1857.0 1382.5 1858.7 1390.2 1860.0 1395.0C1861.3 1399.8 1862.5 1401.2 1864.0 1404.0C1865.5 1406.8 1868.2 1410.7 1869.0 1412.0M1875.0 1190.0C1875.8 1188.3 1878.2 1182.8 1880.0 1180.0C1881.8 1177.2 1884.2 1174.4 1886.0 1173.0C1887.8 1171.6 1889.3 1171.0 1891.0 1171.5C1892.7 1172.0 1894.5 1173.6 1896.0 1176.0C1897.5 1178.4 1898.7 1182.0 1900.0 1186.0C1901.3 1190.0 1903.0 1194.3 1904.0 1200.0C1905.0 1205.7 1905.7 1216.7 1906.0 1220.0M1873.0 1142.0L1889.0 1157.0L1887.5 1159.0L1872.0 1144.0L1873.0 1142.0M1898.0 1335.0C1897.5 1337.5 1896.3 1344.2 1895.0 1350.0C1893.7 1355.8 1892.2 1362.8 1890.0 1370.0C1887.8 1377.2 1884.2 1387.3 1882.0 1393.0C1879.8 1398.7 1877.8 1402.2 1877.0 1404.0M1855.0 1370.0C1855.5 1372.8 1856.7 1381.7 1858.0 1387.0C1859.3 1392.3 1861.2 1398.5 1863.0 1402.0C1864.8 1405.5 1867.0 1407.7 1869.0 1408.0C1871.0 1408.3 1872.8 1406.7 1875.0 1404.0C1877.2 1401.3 1879.5 1397.2 1882.0 1392.0C1884.5 1386.8 1888.7 1376.2 1890.0 1373.0"/>
<path class="k" style="stroke-width:2.8" d="M1870.0 1264.0C1870.8 1259.2 1873.3 1242.3 1875.0 1235.0C1876.7 1227.7 1878.3 1222.4 1880.0 1220.0C1881.7 1217.6 1884.2 1220.7 1885.0 1220.8M1873.0 1250.0C1872.2 1254.2 1869.2 1266.7 1868.0 1275.0C1866.8 1283.3 1865.8 1292.5 1865.5 1300.0C1865.2 1307.5 1865.2 1315.0 1866.0 1320.0C1866.8 1325.0 1868.5 1327.8 1870.0 1330.0C1871.5 1332.2 1874.2 1332.5 1875.0 1333.0M1869.0 1153.0C1870.0 1154.5 1873.8 1159.0 1875.0 1162.0C1876.2 1165.0 1876.3 1166.3 1876.2 1171.0C1876.1 1175.7 1874.8 1186.8 1874.5 1190.0"/>
<path class="k" d="M1865.0 1320.0C1865.2 1323.3 1865.2 1333.7 1866.0 1340.0C1866.8 1346.3 1868.8 1354.8 1870.0 1358.0C1871.2 1361.2 1871.8 1359.5 1873.0 1359.5C1874.2 1359.5 1875.5 1360.2 1877.0 1358.0C1878.5 1355.8 1880.5 1349.8 1882.0 1346.0C1883.5 1342.2 1885.3 1336.8 1886.0 1335.0M1872.0 1357.0C1873.2 1355.5 1877.2 1351.7 1879.0 1348.0C1880.8 1344.3 1882.3 1337.2 1883.0 1335.0"/>
<path class="k" d="M1885.0 1220.8L1947.5 1226.0M1875.0 1333.0L1941.0 1340.0"/>
<g class="k" transform="rotate(5.5 1946 1283.5)"><ellipse cx="1946" cy="1283.5" rx="14.5" ry="57.5"/><ellipse cx="1948" cy="1283.5" rx="12" ry="51"/><ellipse cx="1950" cy="1283.5" rx="8.5" ry="39"/><ellipse cx="1951" cy="1283.5" rx="6.5" ry="33"/><path d="M1951 1250.5L1957.5 1267L1957.5 1300L1951 1316.5L1944.5 1300L1944.5 1267zM1951 1250.5V1316.5M1944.5 1267L1957.5 1300M1957.5 1267L1944.5 1300"/></g>
<g transform="translate(913.5 948.5) rotate(5.71)">
<path d="M0 -20.805999999999997L135.74 -20.805999999999997L135.74 20.805999999999997L7.74 20.805999999999997z" fill="#fff" stroke="none"/>
<path d="M0.0 -20.8C1.2 -6.2 3.2 12.5 8.2 20.8M7.7 -20.8C8.9 -6.2 10.9 12.5 15.9 20.8M15.5 -20.8C16.6 -6.2 18.7 12.5 23.7 20.8M23.2 -20.8C24.4 -6.2 26.4 12.5 31.4 20.8M31.0 -20.8C32.1 -6.2 34.1 12.5 39.2 20.8M38.7 -20.8C39.9 -6.2 41.9 12.5 46.9 20.8M46.4 -20.8C47.6 -6.2 49.6 12.5 54.6 20.8M54.2 -20.8C55.3 -6.2 57.4 12.5 62.4 20.8M61.9 -20.8C63.1 -6.2 65.1 12.5 70.1 20.8M69.7 -20.8C70.8 -6.2 72.8 12.5 77.9 20.8M77.4 -20.8C78.6 -6.2 80.6 12.5 85.6 20.8M85.1 -20.8C86.3 -6.2 88.3 12.5 93.3 20.8M92.9 -20.8C94.0 -6.2 96.1 12.5 101.1 20.8M100.6 -20.8C101.8 -6.2 103.8 12.5 108.8 20.8M108.4 -20.8C109.5 -6.2 111.5 12.5 116.6 20.8M116.1 -20.8C117.3 -6.2 119.3 12.5 124.3 20.8M123.8 -20.8C125.0 -6.2 127.0 12.5 132.0 20.8" fill="none" stroke="#000" stroke-width="5.7" stroke-linecap="round"/>
<path d="M-3.1 -18.4Q0.4 -23.0 3.9 -18.4M4.3 18.4Q7.7 23.0 11.2 18.4M4.6 -18.4Q8.1 -23.0 11.6 -18.4M12.0 18.4Q15.5 23.0 19.0 18.4M12.4 -18.4Q15.9 -23.0 19.4 -18.4M19.7 18.4Q23.2 23.0 26.7 18.4M20.1 -18.4Q23.6 -23.0 27.1 -18.4M27.5 18.4Q31.0 23.0 34.4 18.4M27.9 -18.4Q31.3 -23.0 34.8 -18.4M35.2 18.4Q38.7 23.0 42.2 18.4M35.6 -18.4Q39.1 -23.0 42.6 -18.4M43.0 18.4Q46.4 23.0 49.9 18.4M43.3 -18.4Q46.8 -23.0 50.3 -18.4M50.7 18.4Q54.2 23.0 57.7 18.4M51.1 -18.4Q54.6 -23.0 58.0 -18.4M58.4 18.4Q61.9 23.0 65.4 18.4M58.8 -18.4Q62.3 -23.0 65.8 -18.4M66.2 18.4Q69.7 23.0 73.1 18.4M66.6 -18.4Q70.0 -23.0 73.5 -18.4M73.9 18.4Q77.4 23.0 80.9 18.4M74.3 -18.4Q77.8 -23.0 81.3 -18.4M81.7 18.4Q85.1 23.0 88.6 18.4M82.0 -18.4Q85.5 -23.0 89.0 -18.4M89.4 18.4Q92.9 23.0 96.4 18.4M89.8 -18.4Q93.3 -23.0 96.8 -18.4M97.1 18.4Q100.6 23.0 104.1 18.4M97.5 -18.4Q101.0 -23.0 104.5 -18.4M104.9 18.4Q108.4 23.0 111.8 18.4M105.3 -18.4Q108.7 -23.0 112.2 -18.4M112.6 18.4Q116.1 23.0 119.6 18.4M113.0 -18.4Q116.5 -23.0 120.0 -18.4M120.4 18.4Q123.8 23.0 127.3 18.4M120.7 -18.4Q124.2 -23.0 127.7 -18.4M128.1 18.4Q131.6 23.0 135.1 18.4" class="k" style="stroke-width:1.6"/>
<path class="w" d="M141.4 -39.0L184.6 -39.0A9.8 39.0 0 0 1 184.6 39.0L141.4 39.0C128.4 39.0 128.4 -39.0 141.4 -39.0z"/>
<path class="k" d="M144.9 -39.0C131.9 -39.0 131.9 39.0 144.9 39.0"/>
<path class="k" d="M132.2 17.9L176.4 17.9"/>
<ellipse class="w" cx="184.6" cy="0" rx="9.8" ry="39.0"/>
<ellipse class="k" cx="185.6" cy="0" rx="8.0" ry="34.3"/>
<ellipse class="k" cx="186.6" cy="0" rx="5.1" ry="21.8"/>
<ellipse class="k" cx="186.9" cy="0" rx="3.7" ry="17.6"/>
<path class="t" d="M186.9 -17.6L190.3 -8.8L190.3 8.8L186.9 17.6L183.6 8.8L183.6 -8.8zM183.6 1.8L190.3 1.8M186.9 1.8L185.1 14.0"/>
</g>
<g transform="translate(873.0 891.5) rotate(5.31)">
<path d="M0 -21.206000000000003L137.74 -21.206000000000003L137.74 21.206000000000003L7.74 21.206000000000003z" fill="#fff" stroke="none"/>
<path d="M0.0 -21.2C1.2 -6.4 3.2 12.7 8.2 21.2M7.7 -21.2C8.9 -6.4 10.9 12.7 15.9 21.2M15.5 -21.2C16.6 -6.4 18.7 12.7 23.7 21.2M23.2 -21.2C24.4 -6.4 26.4 12.7 31.4 21.2M31.0 -21.2C32.1 -6.4 34.1 12.7 39.2 21.2M38.7 -21.2C39.9 -6.4 41.9 12.7 46.9 21.2M46.4 -21.2C47.6 -6.4 49.6 12.7 54.6 21.2M54.2 -21.2C55.3 -6.4 57.4 12.7 62.4 21.2M61.9 -21.2C63.1 -6.4 65.1 12.7 70.1 21.2M69.7 -21.2C70.8 -6.4 72.8 12.7 77.9 21.2M77.4 -21.2C78.6 -6.4 80.6 12.7 85.6 21.2M85.1 -21.2C86.3 -6.4 88.3 12.7 93.3 21.2M92.9 -21.2C94.0 -6.4 96.1 12.7 101.1 21.2M100.6 -21.2C101.8 -6.4 103.8 12.7 108.8 21.2M108.4 -21.2C109.5 -6.4 111.5 12.7 116.6 21.2M116.1 -21.2C117.3 -6.4 119.3 12.7 124.3 21.2M123.8 -21.2C125.0 -6.4 127.0 12.7 132.0 21.2" fill="none" stroke="#000" stroke-width="5.7" stroke-linecap="round"/>
<path d="M-3.1 -18.8Q0.4 -23.4 3.9 -18.8M4.3 18.8Q7.7 23.4 11.2 18.8M4.6 -18.8Q8.1 -23.4 11.6 -18.8M12.0 18.8Q15.5 23.4 19.0 18.8M12.4 -18.8Q15.9 -23.4 19.4 -18.8M19.7 18.8Q23.2 23.4 26.7 18.8M20.1 -18.8Q23.6 -23.4 27.1 -18.8M27.5 18.8Q31.0 23.4 34.4 18.8M27.9 -18.8Q31.3 -23.4 34.8 -18.8M35.2 18.8Q38.7 23.4 42.2 18.8M35.6 -18.8Q39.1 -23.4 42.6 -18.8M43.0 18.8Q46.4 23.4 49.9 18.8M43.3 -18.8Q46.8 -23.4 50.3 -18.8M50.7 18.8Q54.2 23.4 57.7 18.8M51.1 -18.8Q54.6 -23.4 58.0 -18.8M58.4 18.8Q61.9 23.4 65.4 18.8M58.8 -18.8Q62.3 -23.4 65.8 -18.8M66.2 18.8Q69.7 23.4 73.1 18.8M66.6 -18.8Q70.0 -23.4 73.5 -18.8M73.9 18.8Q77.4 23.4 80.9 18.8M74.3 -18.8Q77.8 -23.4 81.3 -18.8M81.7 18.8Q85.1 23.4 88.6 18.8M82.0 -18.8Q85.5 -23.4 89.0 -18.8M89.4 18.8Q92.9 23.4 96.4 18.8M89.8 -18.8Q93.3 -23.4 96.8 -18.8M97.1 18.8Q100.6 23.4 104.1 18.8M97.5 -18.8Q101.0 -23.4 104.5 -18.8M104.9 18.8Q108.4 23.4 111.8 18.8M105.3 -18.8Q108.7 -23.4 112.2 -18.8M112.6 18.8Q116.1 23.4 119.6 18.8M113.0 -18.8Q116.5 -23.4 120.0 -18.8M120.4 18.8Q123.8 23.4 127.3 18.8M120.7 -18.8Q124.2 -23.4 127.7 -18.8M128.1 18.8Q131.6 23.4 135.1 18.8" class="k" style="stroke-width:1.6"/>
<path class="w" d="M143.4 -39.0L185.6 -39.0A9.8 39.0 0 0 1 185.6 39.0L143.4 39.0C130.4 39.0 130.4 -39.0 143.4 -39.0z"/>
<path class="k" d="M146.9 -39.0C133.9 -39.0 133.9 39.0 146.9 39.0"/>
<path class="k" d="M134.2 17.9L177.4 17.9"/>
<ellipse class="w" cx="185.6" cy="0" rx="9.8" ry="39.0"/>
<ellipse class="k" cx="186.6" cy="0" rx="8.0" ry="34.3"/>
<ellipse class="k" cx="187.6" cy="0" rx="5.1" ry="21.8"/>
<ellipse class="k" cx="187.9" cy="0" rx="3.7" ry="17.6"/>
<path class="t" d="M187.9 -17.6L191.3 -8.8L191.3 8.8L187.9 17.6L184.6 8.8L184.6 -8.8zM184.6 1.8L191.3 1.8M187.9 1.8L186.1 14.0"/>
</g>
<g transform="translate(816.0 1392.8) rotate(5.71)">
<path d="M0 -29.183999999999997L193.55 -29.183999999999997L193.55 29.183999999999997L9.55 29.183999999999997z" fill="#fff" stroke="none"/>
<path d="M0.0 -29.2C1.4 -8.8 3.9 17.5 10.1 29.2M9.6 -29.2C11.0 -8.8 13.5 17.5 19.7 29.2M19.1 -29.2C20.5 -8.8 23.0 17.5 29.2 29.2M28.7 -29.2C30.1 -8.8 32.6 17.5 38.8 29.2M38.2 -29.2C39.6 -8.8 42.1 17.5 48.3 29.2M47.8 -29.2C49.2 -8.8 51.7 17.5 57.9 29.2M57.3 -29.2C58.7 -8.8 61.2 17.5 67.4 29.2M66.9 -29.2C68.3 -8.8 70.8 17.5 77.0 29.2M76.4 -29.2C77.8 -8.8 80.3 17.5 86.5 29.2M86.0 -29.2C87.4 -8.8 89.9 17.5 96.1 29.2M95.5 -29.2C96.9 -8.8 99.4 17.5 105.6 29.2M105.1 -29.2C106.5 -8.8 109.0 17.5 115.2 29.2M114.6 -29.2C116.0 -8.8 118.5 17.5 124.7 29.2M124.2 -29.2C125.6 -8.8 128.1 17.5 134.3 29.2M133.7 -29.2C135.1 -8.8 137.6 17.5 143.8 29.2M143.2 -29.2C144.7 -8.8 147.2 17.5 153.4 29.2M152.8 -29.2C154.2 -8.8 156.7 17.5 162.9 29.2M162.4 -29.2C163.8 -8.8 166.3 17.5 172.5 29.2M171.9 -29.2C173.3 -8.8 175.8 17.5 182.0 29.2M181.5 -29.2C182.9 -8.8 185.4 17.5 191.6 29.2" fill="none" stroke="#000" stroke-width="4.8" stroke-linecap="round"/>
<path d="M5.7 -26.3C6.9 -7.9 9.2 15.8 14.3 26.3M15.3 -26.3C16.4 -7.9 18.7 15.8 23.9 26.3M24.8 -26.3C26.0 -7.9 28.3 15.8 33.4 26.3M34.4 -26.3C35.5 -7.9 37.8 15.8 43.0 26.3M43.9 -26.3C45.1 -7.9 47.4 15.8 52.5 26.3M53.5 -26.3C54.6 -7.9 56.9 15.8 62.1 26.3M63.0 -26.3C64.2 -7.9 66.5 15.8 71.6 26.3M72.6 -26.3C73.7 -7.9 76.0 15.8 81.2 26.3M82.1 -26.3C83.3 -7.9 85.6 15.8 90.7 26.3M91.7 -26.3C92.8 -7.9 95.1 15.8 100.3 26.3M101.2 -26.3C102.4 -7.9 104.7 15.8 109.8 26.3M110.8 -26.3C111.9 -7.9 114.2 15.8 119.4 26.3M120.3 -26.3C121.5 -7.9 123.8 15.8 128.9 26.3M129.9 -26.3C131.0 -7.9 133.3 15.8 138.5 26.3M139.4 -26.3C140.6 -7.9 142.9 15.8 148.0 26.3M149.0 -26.3C150.1 -7.9 152.4 15.8 157.6 26.3M158.5 -26.3C159.7 -7.9 162.0 15.8 167.1 26.3M168.1 -26.3C169.2 -7.9 171.5 15.8 176.7 26.3M177.6 -26.3C178.8 -7.9 181.1 15.8 186.2 26.3M187.2 -26.3C188.3 -7.9 190.6 15.8 195.8 26.3" class="t" style="stroke-width:1.5"/>
<path d="M-3.8 -26.8Q0.5 -31.4 4.8 -26.8M5.3 26.8Q9.6 31.4 13.8 26.8M5.7 -26.8Q10.0 -31.4 14.3 -26.8M14.8 26.8Q19.1 31.4 23.4 26.8M15.3 -26.8Q19.6 -31.4 23.9 -26.8M24.4 26.8Q28.7 31.4 32.9 26.8M24.8 -26.8Q29.1 -31.4 33.4 -26.8M33.9 26.8Q38.2 31.4 42.5 26.8M34.4 -26.8Q38.7 -31.4 43.0 -26.8M43.5 26.8Q47.8 31.4 52.0 26.8M43.9 -26.8Q48.2 -31.4 52.5 -26.8M53.0 26.8Q57.3 31.4 61.6 26.8M53.5 -26.8Q57.8 -31.4 62.1 -26.8M62.6 26.8Q66.9 31.4 71.1 26.8M63.0 -26.8Q67.3 -31.4 71.6 -26.8M72.1 26.8Q76.4 31.4 80.7 26.8M72.6 -26.8Q76.9 -31.4 81.2 -26.8M81.7 26.8Q86.0 31.4 90.2 26.8M82.1 -26.8Q86.4 -31.4 90.7 -26.8M91.2 26.8Q95.5 31.4 99.8 26.8M91.7 -26.8Q96.0 -31.4 100.3 -26.8M100.8 26.8Q105.0 31.4 109.3 26.8M101.2 -26.8Q105.5 -31.4 109.8 -26.8M110.3 26.8Q114.6 31.4 118.9 26.8M110.8 -26.8Q115.1 -31.4 119.4 -26.8M119.9 26.8Q124.2 31.4 128.4 26.8M120.3 -26.8Q124.6 -31.4 128.9 -26.8M129.4 26.8Q133.7 31.4 138.0 26.8M129.9 -26.8Q134.2 -31.4 138.5 -26.8M139.0 26.8Q143.3 31.4 147.5 26.8M139.4 -26.8Q143.7 -31.4 148.0 -26.8M148.5 26.8Q152.8 31.4 157.1 26.8M149.0 -26.8Q153.3 -31.4 157.6 -26.8M158.1 26.8Q162.4 31.4 166.6 26.8M158.5 -26.8Q162.8 -31.4 167.1 -26.8M167.6 26.8Q171.9 31.4 176.2 26.8M168.1 -26.8Q172.4 -31.4 176.7 -26.8M177.2 26.8Q181.5 31.4 185.7 26.8M177.6 -26.8Q181.9 -31.4 186.2 -26.8M186.7 26.8Q191.0 31.4 195.3 26.8" class="k" style="stroke-width:1.6"/>
<path class="w" d="M201.1 -50.5L257.2 -50.5A12.6 50.5 0 0 1 257.2 50.5L201.1 50.5C184.3 50.5 184.3 -50.5 201.1 -50.5z"/>
<path class="k" d="M204.6 -50.5C187.8 -50.5 187.8 50.5 204.6 50.5"/>
<ellipse class="w" cx="257.2" cy="0" rx="12.6" ry="50.5"/>
<ellipse class="k" cx="258.2" cy="0" rx="10.4" ry="44.4"/>
<ellipse class="k" cx="259.2" cy="0" rx="6.6" ry="28.3"/>
<ellipse class="k" cx="259.5" cy="0" rx="4.8" ry="22.7"/>
<path class="t" d="M259.5 -22.7L263.8 -11.4L263.8 11.4L259.5 22.7L255.2 11.4L255.2 -11.4zM255.2 2.3L263.8 2.3M259.5 2.3L257.1 18.2"/>
</g>
<g transform="translate(781.0 1507.2) rotate(5.03)">
<path d="M0 -28.183999999999997L191.65 -28.183999999999997L191.65 28.183999999999997L9.65 28.183999999999997z" fill="#fff" stroke="none"/>
<path d="M0.0 -28.2C1.4 -8.5 4.0 16.9 10.2 28.2M9.7 -28.2C11.1 -8.5 13.6 16.9 19.9 28.2M19.3 -28.2C20.7 -8.5 23.3 16.9 29.5 28.2M29.0 -28.2C30.4 -8.5 32.9 16.9 39.2 28.2M38.6 -28.2C40.0 -8.5 42.6 16.9 48.8 28.2M48.2 -28.2C49.7 -8.5 52.2 16.9 58.5 28.2M57.9 -28.2C59.3 -8.5 61.9 16.9 68.1 28.2M67.5 -28.2C69.0 -8.5 71.5 16.9 77.8 28.2M77.2 -28.2C78.6 -8.5 81.2 16.9 87.4 28.2M86.9 -28.2C88.3 -8.5 90.8 16.9 97.1 28.2M96.5 -28.2C97.9 -8.5 100.5 16.9 106.7 28.2M106.2 -28.2C107.6 -8.5 110.1 16.9 116.4 28.2M115.8 -28.2C117.2 -8.5 119.8 16.9 126.0 28.2M125.5 -28.2C126.9 -8.5 129.4 16.9 135.7 28.2M135.1 -28.2C136.5 -8.5 139.1 16.9 145.3 28.2M144.8 -28.2C146.2 -8.5 148.7 16.9 155.0 28.2M154.4 -28.2C155.8 -8.5 158.4 16.9 164.6 28.2M164.1 -28.2C165.5 -8.5 168.0 16.9 174.3 28.2M173.7 -28.2C175.1 -8.5 177.7 16.9 183.9 28.2" fill="none" stroke="#000" stroke-width="4.8" stroke-linecap="round"/>
<path d="M5.8 -25.4C6.9 -7.6 9.3 15.2 14.5 25.4M15.4 -25.4C16.6 -7.6 18.9 15.2 24.1 25.4M25.1 -25.4C26.2 -7.6 28.6 15.2 33.8 25.4M34.7 -25.4C35.9 -7.6 38.2 15.2 43.4 25.4M44.4 -25.4C45.5 -7.6 47.9 15.2 53.1 25.4M54.0 -25.4C55.2 -7.6 57.5 15.2 62.7 25.4M63.7 -25.4C64.8 -7.6 67.2 15.2 72.4 25.4M73.3 -25.4C74.5 -7.6 76.8 15.2 82.0 25.4M83.0 -25.4C84.1 -7.6 86.5 15.2 91.7 25.4M92.6 -25.4C93.8 -7.6 96.1 15.2 101.3 25.4M102.3 -25.4C103.4 -7.6 105.8 15.2 111.0 25.4M111.9 -25.4C113.1 -7.6 115.4 15.2 120.6 25.4M121.6 -25.4C122.7 -7.6 125.1 15.2 130.3 25.4M131.2 -25.4C132.4 -7.6 134.7 15.2 139.9 25.4M140.9 -25.4C142.0 -7.6 144.4 15.2 149.6 25.4M150.5 -25.4C151.7 -7.6 154.0 15.2 159.2 25.4M160.2 -25.4C161.3 -7.6 163.7 15.2 168.9 25.4M169.8 -25.4C171.0 -7.6 173.3 15.2 178.5 25.4M179.5 -25.4C180.6 -7.6 183.0 15.2 188.2 25.4" class="t" style="stroke-width:1.5"/>
<path d="M-3.9 -25.8Q0.5 -30.4 4.8 -25.8M5.3 25.8Q9.7 30.4 14.0 25.8M5.8 -25.8Q10.1 -30.4 14.5 -25.8M15.0 25.8Q19.3 30.4 23.6 25.8M15.4 -25.8Q19.8 -30.4 24.1 -25.8M24.6 25.8Q29.0 30.4 33.3 25.8M25.1 -25.8Q29.4 -30.4 33.8 -25.8M34.3 25.8Q38.6 30.4 42.9 25.8M34.7 -25.8Q39.1 -30.4 43.4 -25.8M43.9 25.8Q48.2 30.4 52.6 25.8M44.4 -25.8Q48.7 -30.4 53.1 -25.8M53.6 25.8Q57.9 30.4 62.2 25.8M54.0 -25.8Q58.4 -30.4 62.7 -25.8M63.2 25.8Q67.6 30.4 71.9 25.8M63.7 -25.8Q68.0 -30.4 72.4 -25.8M72.9 25.8Q77.2 30.4 81.5 25.8M73.3 -25.8Q77.7 -30.4 82.0 -25.8M82.5 25.8Q86.9 30.4 91.2 25.8M83.0 -25.8Q87.3 -30.4 91.7 -25.8M92.2 25.8Q96.5 30.4 100.8 25.8M92.6 -25.8Q97.0 -30.4 101.3 -25.8M101.8 25.8Q106.2 30.4 110.5 25.8M102.3 -25.8Q106.6 -30.4 111.0 -25.8M111.5 25.8Q115.8 30.4 120.1 25.8M111.9 -25.8Q116.3 -30.4 120.6 -25.8M121.1 25.8Q125.5 30.4 129.8 25.8M121.6 -25.8Q125.9 -30.4 130.3 -25.8M130.8 25.8Q135.1 30.4 139.4 25.8M131.2 -25.8Q135.6 -30.4 139.9 -25.8M140.4 25.8Q144.8 30.4 149.1 25.8M140.9 -25.8Q145.2 -30.4 149.6 -25.8M150.1 25.8Q154.4 30.4 158.7 25.8M150.5 -25.8Q154.9 -30.4 159.2 -25.8M159.7 25.8Q164.1 30.4 168.4 25.8M160.2 -25.8Q164.5 -30.4 168.9 -25.8M169.4 25.8Q173.7 30.4 178.0 25.8M169.8 -25.8Q174.2 -30.4 178.5 -25.8M179.0 25.8Q183.4 30.4 187.7 25.8" class="k" style="stroke-width:1.6"/>
<path class="w" d="M199.2 -50.5L254.8 -50.5A12.6 50.5 0 0 1 254.8 50.5L199.2 50.5C182.3 50.5 182.3 -50.5 199.2 -50.5z"/>
<path class="k" d="M202.7 -50.5C185.8 -50.5 185.8 50.5 202.7 50.5"/>
<ellipse class="w" cx="254.8" cy="0" rx="12.6" ry="50.5"/>
<ellipse class="k" cx="255.8" cy="0" rx="10.4" ry="44.4"/>
<ellipse class="k" cx="256.8" cy="0" rx="6.6" ry="28.3"/>
<ellipse class="k" cx="257.1" cy="0" rx="4.8" ry="22.7"/>
<path class="t" d="M257.1 -22.7L261.4 -11.4L261.4 11.4L257.1 22.7L252.8 11.4L252.8 -11.4zM252.8 2.3L261.4 2.3M257.1 2.3L254.7 18.2"/>
</g>
<path class="k" d="M336.4 984.9L391.4 990.1M326.6 1086.6L380.8 1092.6M336.4 984.9C334.7 987.0 329.3 990.5 326.6 997.7C323.8 1004.8 321.3 1018.5 319.8 1027.8C318.3 1037.1 317.5 1045.4 317.5 1053.4C317.5 1061.5 318.3 1070.5 319.8 1076.0C321.3 1081.5 325.4 1084.8 326.6 1086.6M332.6 988.6C331.3 992.6 326.8 1002.4 325.1 1012.7C323.3 1023.0 322.1 1039.1 322.1 1050.4C322.1 1061.7 323.9 1074.5 325.1 1080.5C326.2 1086.6 328.2 1085.6 328.8 1086.6M391.4 990.1C392.5 992.6 396.7 998.2 398.1 1005.2C399.6 1012.2 400.1 1023.5 400.1 1032.3C400.1 1041.1 399.3 1049.9 398.1 1057.9C396.9 1066.0 395.0 1075.0 392.9 1080.5C390.7 1086.1 387.3 1089.1 385.3 1091.1C383.3 1093.1 381.6 1092.3 380.8 1092.6M380.8 1092.6C380.1 1092.1 377.6 1092.8 376.3 1089.6C375.0 1086.3 373.8 1080.8 373.3 1073.0C372.8 1065.2 372.7 1052.9 373.3 1042.9C373.9 1032.8 375.5 1020.3 377.0 1012.7C378.6 1005.2 380.7 1001.1 382.3 997.7C384.0 994.3 386.1 993.3 386.8 992.4M385.3 993.9C384.6 996.5 381.9 1002.3 380.8 1009.7C379.7 1017.1 378.8 1028.6 378.6 1038.3C378.3 1048.1 378.4 1060.2 379.3 1068.5C380.2 1076.8 383.1 1084.8 383.8 1088.1M391.4 1009.7C390.5 1012.0 387.5 1017.0 386.1 1023.3C384.7 1029.6 383.2 1039.6 383.1 1047.4C382.9 1055.2 384.0 1065.7 385.3 1070.0C386.7 1074.3 390.4 1072.5 391.4 1073.0M394.4 1015.7C393.6 1018.3 390.9 1025.0 389.9 1030.8C388.9 1036.6 388.1 1044.6 388.3 1050.4C388.6 1056.2 389.7 1062.5 391.4 1065.5C393.0 1068.5 397.0 1068.0 398.1 1068.5M415.5 986.4L426.8 987.1M406.4 1096.4L415.5 1097.4M415.5 986.4C414.2 988.8 410.1 993.8 407.9 1000.7C405.8 1007.6 403.9 1018.3 402.7 1027.8C401.4 1037.3 400.5 1048.6 400.4 1057.9C400.3 1067.2 400.9 1077.1 401.9 1083.5C402.9 1090.0 405.7 1094.2 406.4 1096.4M426.8 987.1C425.5 990.1 421.4 997.7 419.2 1005.2C417.1 1012.7 415.2 1022.8 414.0 1032.3C412.7 1041.9 411.8 1053.2 411.7 1062.5C411.6 1071.7 412.6 1082.2 413.2 1088.1C413.8 1093.9 415.1 1095.9 415.5 1097.4M426.8 987.1C427.8 988.9 431.4 992.6 432.8 997.7C434.2 1002.7 434.8 1009.5 435.1 1017.3C435.3 1025.0 435.1 1035.3 434.3 1044.4C433.5 1053.4 432.2 1064.0 430.5 1071.5C428.9 1079.0 427.0 1085.3 424.5 1089.6C422.0 1093.9 417.0 1096.1 415.5 1097.4M423.0 990.1C421.9 993.4 418.2 1001.7 416.2 1009.7C414.2 1017.8 412.0 1028.6 410.9 1038.3C409.9 1048.1 409.7 1059.2 410.2 1068.5C410.7 1077.8 413.3 1089.8 414.0 1094.1M447.1 987.1L599.3 1002.9M438.1 1095.6L585.7 1109.9M447.1 987.1C445.4 990.1 439.3 997.2 436.6 1005.2C433.8 1013.2 431.8 1025.3 430.5 1035.3C429.3 1045.4 428.8 1057.2 429.0 1065.5C429.3 1073.8 430.5 1080.0 432.0 1085.1C433.5 1090.1 437.1 1093.8 438.1 1095.6M442.6 992.4C441.3 997.0 436.7 1010.6 435.1 1020.3C433.4 1029.9 433.0 1040.9 432.8 1050.4C432.5 1059.9 432.8 1070.5 433.5 1077.5C434.3 1084.6 436.7 1090.1 437.3 1092.6M593.3 1003.7C591.8 1009.0 586.5 1023.8 584.2 1035.3C582.0 1046.9 580.2 1063.0 579.7 1073.0C579.2 1083.0 580.2 1089.5 581.2 1095.6C582.2 1101.8 585.0 1107.5 585.7 1109.9M599.3 1003.7C597.8 1009.5 592.4 1026.5 590.2 1038.3C588.1 1050.2 586.7 1064.2 586.5 1074.5C586.2 1084.8 587.9 1094.1 588.7 1100.1C589.6 1106.2 591.3 1108.9 591.8 1110.7M599.3 1002.9L611.3 1002.2M591.8 1110.7L602.3 1111.4M626.4 986.4C624.9 989.5 620.1 994.5 617.4 1005.2C614.6 1015.9 611.2 1036.6 609.8 1050.4C608.5 1064.2 608.3 1077.0 609.1 1088.1C609.8 1099.1 612.2 1110.2 614.4 1116.7C616.5 1123.2 620.6 1125.5 621.9 1127.2M633.9 987.1C632.2 991.4 626.2 1002.2 623.4 1012.7C620.6 1023.3 618.5 1037.8 617.4 1050.4C616.2 1063.0 616.1 1077.3 616.6 1088.1C617.1 1098.9 618.7 1108.4 620.4 1115.2C622.0 1122.0 625.4 1126.5 626.4 1128.8M626.4 985.9L638.5 986.8M611.3 1126.5L626.4 1129.5M611.3 1126.5C610.3 1124.6 606.9 1120.3 605.3 1115.2C603.7 1110.0 602.2 1098.9 601.5 1095.6"/>
<path class="k" style="stroke-width:3.4" d="M611.3 1002.2C609.8 1007.7 604.3 1023.5 602.3 1035.3C600.3 1047.1 599.3 1061.7 599.3 1073.0C599.3 1084.3 600.5 1095.4 602.3 1103.1C604.1 1110.9 608.6 1116.9 609.8 1119.7M424.5 1012.7C423.6 1015.7 420.4 1024.0 419.2 1030.8C418.1 1037.6 417.6 1046.6 417.7 1053.4C417.9 1060.2 418.6 1068.0 420.0 1071.5C421.4 1075.0 425.0 1074.0 426.0 1074.5M394.4 1011.2C393.5 1013.7 390.5 1019.8 389.1 1026.3C387.7 1032.8 386.2 1043.4 386.1 1050.4C386.0 1057.4 388.0 1065.5 388.3 1068.5"/>
<path class="k" d="M430.5 1011.2C429.8 1011.0 427.5 1008.2 426.0 1009.7C424.5 1011.2 422.9 1015.0 421.5 1020.3C420.1 1025.5 418.6 1034.3 417.7 1041.4C416.9 1048.4 416.1 1056.9 416.2 1062.5C416.3 1068.0 417.1 1072.4 418.5 1074.5C419.9 1076.6 423.5 1075.1 424.5 1075.3M429.0 1014.2C428.3 1017.3 425.5 1025.8 424.5 1032.3C423.5 1038.9 422.8 1047.4 423.0 1053.4C423.3 1059.4 425.5 1066.0 426.0 1068.5"/>
<path class="g" d="M329.6 1008.2L334.1 1023.3L332.6 1047.4L325.1 1062.5"/>
<path class="g" stroke-dasharray="9 5" d="M560.1 1026.3L554.1 1089.6"/>
<path class="k" d="M537.3 1142.1L543.7 1134.0L610.3 1141.0M537.3 1142.1C536.1 1142.4 533.0 1141.9 530.3 1143.9C527.5 1145.9 523.6 1149.2 520.9 1154.4C518.2 1159.7 515.7 1167.7 513.9 1175.5C512.1 1183.3 511.1 1192.6 510.4 1201.2C509.7 1209.7 509.2 1219.7 509.8 1226.9C510.4 1234.1 512.2 1240.3 513.9 1244.4C515.6 1248.5 517.9 1249.8 519.7 1251.4C521.6 1253.1 524.1 1253.9 525.0 1254.4M530.3 1166.1L596.3 1171.4M523.8 1230.4L589.3 1236.8M531.4 1263.1L598.6 1269.6M610.3 1141.0L609.2 1149.7L596.3 1171.4L595.7 1182.5L589.3 1236.8L595.7 1250.3L598.6 1269.6L603.9 1263.1M610.3 1141.0L613.3 1148.6L609.2 1149.7M613.3 1148.6C614.0 1150.3 616.7 1153.8 617.9 1159.1C619.2 1164.4 620.2 1172.7 620.6 1180.1C621.0 1187.5 621.1 1194.7 620.3 1203.5C619.4 1212.3 617.5 1224.4 615.6 1232.7C613.6 1241.1 610.9 1248.5 608.6 1253.8C606.2 1259.0 603.2 1261.7 601.6 1264.3C599.9 1266.9 599.1 1268.7 598.6 1269.6M598.1 1173.1C597.4 1177.2 595.0 1189.7 594.0 1197.7C592.9 1205.7 591.8 1213.8 591.6 1221.0C591.4 1228.3 591.9 1235.1 592.8 1240.9C593.7 1246.8 596.2 1253.6 596.9 1256.1"/>
<path class="k" style="stroke-width:2.8" d="M537.3 1142.1C536.1 1145.0 532.2 1152.8 530.3 1159.1C528.3 1165.4 526.9 1171.8 525.6 1180.1C524.3 1188.5 523.2 1200.6 522.7 1209.4C522.2 1218.1 522.2 1225.5 522.7 1232.7C523.2 1239.9 524.1 1247.5 525.6 1252.6C527.0 1257.7 530.5 1261.4 531.4 1263.1"/>
<g transform="rotate(7 608 1205.5)"><ellipse class="k" cx="608" cy="1205.5" rx="9.6" ry="38.5"/><ellipse cx="607" cy="1206" rx="6.2" ry="33" fill="none" stroke="#000" stroke-width="3.2"/><ellipse class="t" cx="607.5" cy="1207" rx="2.3" ry="26"/></g>
</g>
<g stroke="#000" stroke-width="1.5" fill="none">
<path d="M1946.6 71.4V1328.3M1946.6 153.5H3275.3M1946.6 235.6H3275.3M1946.6 349.4H3275.3M1946.6 463.3H3275.3M1946.6 557.4H3275.3M1946.6 652.4H3275.3M1946.6 746.5H3275.3M1946.6 860.4H3275.3M1946.6 974.4H3275.3M1946.6 1069.6H3275.3M1946.6 1163.5H3275.3M1946.6 1328.3H3275.3M2150.4 153.5V1328.3M2518.2 153.5V1328.3M3106.4 153.5V1328.3"/>
</g>
<g fill="#000">
<text x="2611.0" y="125.7" font-size="31.5" text-anchor="middle" textLength="189.4" lengthAdjust="spacingAndGlyphs" stroke="#fff" stroke-width="0.82">BOM Table</text>
<text x="2048.5" y="205.0" font-size="31.5" text-anchor="middle" textLength="140.0" lengthAdjust="spacingAndGlyphs" stroke="#fff" stroke-width="0.82">ITEM NO.</text>
<text x="2334.3" y="205.0" font-size="31.5" text-anchor="middle" textLength="219.3" lengthAdjust="spacingAndGlyphs" stroke="#fff" stroke-width="0.82">PART NUMBER</text>
<text x="2812.4" y="205.0" font-size="31.5" text-anchor="middle" textLength="204.9" lengthAdjust="spacingAndGlyphs" stroke="#fff" stroke-width="0.82">DESCRIPTION</text>
<text x="3190.4" y="205.0" font-size="31.5" text-anchor="middle" textLength="69.4" lengthAdjust="spacingAndGlyphs" stroke="#fff" stroke-width="0.82">QTY.</text>
<text x="2048.5" y="303.6" font-size="31.5" text-anchor="middle" stroke="#fff" stroke-width="0.82">1</text>
<text x="2155.0" y="286.0" font-size="31.5" text-anchor="start" textLength="330.5" lengthAdjust="spacingAndGlyphs" stroke="#fff" stroke-width="0.82">REARSETS RIGHT V2</text>
<text x="2155.0" y="321.5" font-size="31.5" text-anchor="start" textLength="144.0" lengthAdjust="spacingAndGlyphs" stroke="#fff" stroke-width="0.82">BOTTOM</text>
<text x="3190.4" y="303.6" font-size="31.5" text-anchor="middle" stroke="#fff" stroke-width="0.82">1</text>
<text x="2048.5" y="417.5" font-size="31.5" text-anchor="middle" stroke="#fff" stroke-width="0.82">2</text>
<text x="2155.0" y="399.5" font-size="31.5" text-anchor="start" textLength="329.0" lengthAdjust="spacingAndGlyphs" stroke="#fff" stroke-width="0.82">REARSETS V3 RIGHT</text>
<text x="2155.0" y="435.5" font-size="31.5" text-anchor="start" textLength="210.0" lengthAdjust="spacingAndGlyphs" stroke="#fff" stroke-width="0.82">HEELGUARD</text>
<text x="3190.4" y="417.5" font-size="31.5" text-anchor="middle" stroke="#fff" stroke-width="0.82">1</text>
<text x="2048.5" y="518.3" font-size="31.5" text-anchor="middle" stroke="#fff" stroke-width="0.82">3</text>
<text x="2155.0" y="520.0" font-size="31.5" text-anchor="start" textLength="66.3" lengthAdjust="spacingAndGlyphs" stroke="#fff" stroke-width="0.82">Peg</text>
<text x="3190.4" y="518.3" font-size="31.5" text-anchor="middle" stroke="#fff" stroke-width="0.82">1</text>
<text x="2048.5" y="616.3" font-size="31.5" text-anchor="middle" stroke="#fff" stroke-width="0.82">4</text>
<text x="2155.0" y="617.8" font-size="31.5" text-anchor="start" textLength="110.5" lengthAdjust="spacingAndGlyphs" stroke="#fff" stroke-width="0.82">SLIDER</text>
<text x="3190.4" y="616.3" font-size="31.5" text-anchor="middle" stroke="#fff" stroke-width="0.82">1</text>
<text x="2048.5" y="710.4" font-size="31.5" text-anchor="middle" stroke="#fff" stroke-width="0.82">5</text>
<text x="2155.0" y="712.5" font-size="31.5" text-anchor="start" textLength="251.0" lengthAdjust="spacingAndGlyphs" stroke="#fff" stroke-width="0.82">3/8" x 5.0" shcs</text>
<text x="3190.4" y="710.4" font-size="31.5" text-anchor="middle" stroke="#fff" stroke-width="0.82">1</text>
<text x="2048.5" y="815.0" font-size="31.5" text-anchor="middle" stroke="#fff" stroke-width="0.82">6</text>
<text x="2155.0" y="798.0" font-size="31.5" text-anchor="start" textLength="306.8" lengthAdjust="spacingAndGlyphs" stroke="#fff" stroke-width="0.82">M8 x 1.25 x 35mm</text>
<text x="2155.0" y="834.4" font-size="31.5" text-anchor="start" textLength="72.6" lengthAdjust="spacingAndGlyphs" stroke="#fff" stroke-width="0.82">shcs</text>
<text x="3190.4" y="815.0" font-size="31.5" text-anchor="middle" stroke="#fff" stroke-width="0.82">3</text>
<text x="2048.5" y="929.5" font-size="31.5" text-anchor="middle" stroke="#fff" stroke-width="0.82">7</text>
<text x="2155.0" y="912.0" font-size="31.5" text-anchor="start" textLength="354.6" lengthAdjust="spacingAndGlyphs" stroke="#fff" stroke-width="0.82">Z125 REARSET BRAKE</text>
<text x="2155.0" y="948.0" font-size="31.5" text-anchor="start" textLength="136.0" lengthAdjust="spacingAndGlyphs" stroke="#fff" stroke-width="0.82">SPACER</text>
<text x="3190.4" y="929.5" font-size="31.5" text-anchor="middle" stroke="#fff" stroke-width="0.82">1</text>
<text x="2048.5" y="1033.0" font-size="31.5" text-anchor="middle" stroke="#fff" stroke-width="0.82">8</text>
<text x="2155.0" y="1034.5" font-size="31.5" text-anchor="start" textLength="332.0" lengthAdjust="spacingAndGlyphs" stroke="#fff" stroke-width="0.82">8MM FLAT WASHER</text>
<text x="3190.4" y="1033.0" font-size="31.5" text-anchor="middle" stroke="#fff" stroke-width="0.82">2</text>
<text x="2048.5" y="1124.5" font-size="31.5" text-anchor="middle" stroke="#fff" stroke-width="0.82">9</text>
<text x="2155.0" y="1125.3" font-size="31.5" text-anchor="start" textLength="271.0" lengthAdjust="spacingAndGlyphs" stroke="#fff" stroke-width="0.82">3/8" x 16 nylock</text>
<text x="3190.4" y="1124.5" font-size="31.5" text-anchor="middle" stroke="#fff" stroke-width="0.82">1</text>
<text x="2048.5" y="1257.0" font-size="31.5" text-anchor="middle" stroke="#fff" stroke-width="0.82">10</text>
<text x="2155.0" y="1223.3" font-size="31.5" text-anchor="start" textLength="332.0" lengthAdjust="spacingAndGlyphs" stroke="#fff" stroke-width="0.82">M6 X 18MM 18-8 SS</text>
<text x="2155.0" y="1258.7" font-size="31.5" text-anchor="start" textLength="332.6" lengthAdjust="spacingAndGlyphs" stroke="#fff" stroke-width="0.82">SOCKET HEAD CAP</text>
<text x="2155.0" y="1294.2" font-size="31.5" text-anchor="start" textLength="119.2" lengthAdjust="spacingAndGlyphs" stroke="#fff" stroke-width="0.82">SCREW</text>
<text x="3190.4" y="1257.0" font-size="31.5" text-anchor="middle" stroke="#fff" stroke-width="0.82">2</text>
</g>
<g stroke="#000" stroke-width="1.2" fill="none">
<circle cx="307.5" cy="303" r="38.3"/>
<path d="M329.8 334.1L698.0 847.2"/>
<circle cx="1591.5" cy="240" r="38.3"/>
<path d="M1553.3 237.5L969.5 200.0"/>
<circle cx="1715.4" cy="633.2" r="38.3"/>
<path d="M1705.9 670.3L1563.5 1224.0"/>
<circle cx="1828.6" cy="817.5" r="38.3"/>
<path d="M1833.3 855.5L1874.0 1183.8"/>
<circle cx="2031.2" cy="1589.6" r="38.3"/>
<path d="M2018.1 1553.6L1940.3 1339.6"/>
<circle cx="1275.3" cy="1807.1" r="38.3"/>
<path d="M1248.9 1779.4L1021.3 1540.6"/>
<circle cx="335.3" cy="677.4" r="38.3"/>
<path d="M348.4 713.4L448.1 986.9"/>
<circle cx="225.4" cy="1237.9" r="38.3"/>
<path d="M256.4 1215.3L419.6 1096.4"/>
<circle cx="307.5" cy="1416.1" r="38.3"/>
<path d="M333.5 1388.0L508.9 1198.2"/>
<circle cx="1285.2" cy="594.6" r="38.3"/>
<path d="M1261.1 624.4L1062.0 870.0"/>
</g>
<g fill="#000" stroke="none">
<circle cx="698" cy="847.2" r="3"/>
<path d="M969.5 200.0L995.7 197.4L995.2 206.0z"/>
<path d="M1563.5 1224.0L1565.8 1197.7L1574.1 1199.9z"/>
<path d="M1874.0 1183.8L1870.6 1174.1L1875.0 1173.6z"/>
<path d="M1940.3 1339.6L1945.3 1346.3L1940.8 1347.9z"/>
<path d="M1021.3 1540.6L1042.4 1556.5L1036.1 1562.4z"/>
<path d="M448.1 986.9L435.2 963.9L443.2 961.0z"/>
<path d="M419.6 1096.4L401.1 1115.2L396.1 1108.2z"/>
<path d="M508.9 1198.2L494.4 1220.2L488.1 1214.4z"/>
<path d="M1062.0 870.0L1071.8 852.2L1077.4 856.7z"/>
</g>
<g fill="#000" font-size="35.5" text-anchor="middle" stroke="#fff" stroke-width="1">
<text x="307.5" y="315.6">1</text>
<text x="1591.5" y="252.6">2</text>
<text x="1715.4" y="645.8">3</text>
<text x="1828.6" y="830.1">4</text>
<text x="2031.2" y="1602.2">5</text>
<text x="1275.3" y="1819.7">6</text>
<text x="335.3" y="690.0">7</text>
<text x="225.4" y="1250.5">8</text>
<text x="307.5" y="1428.7">9</text>
<text x="1285.2" y="607.2">10</text>
</g>
</svg>
</body></html>
